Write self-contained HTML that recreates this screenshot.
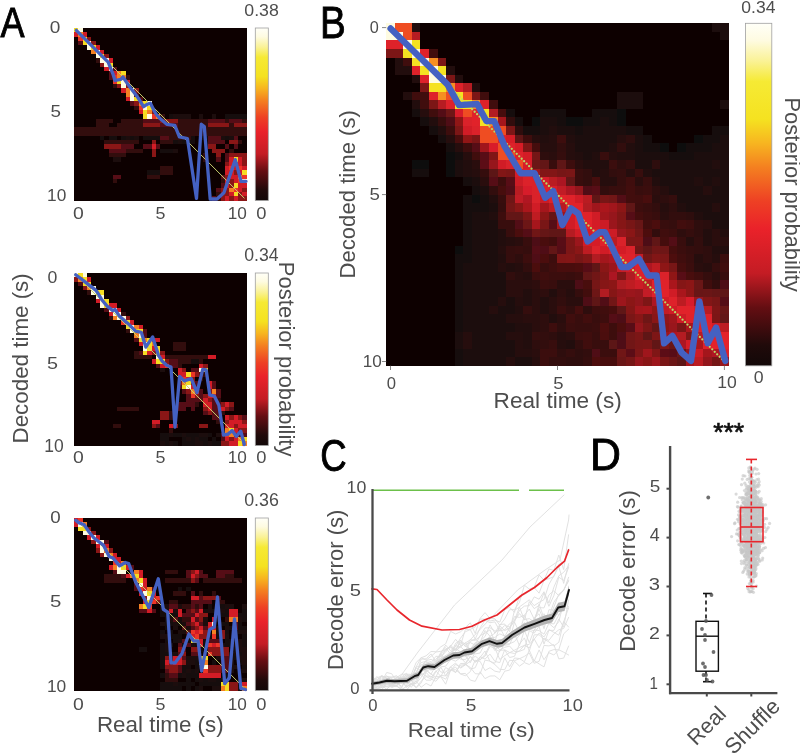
<!DOCTYPE html>
<html><head><meta charset="utf-8"><style>
html,body{margin:0;padding:0;background:#fff;}
body{width:800px;height:754px;overflow:hidden;}
svg text{font-family:"Liberation Sans", sans-serif;}
svg{will-change:transform;}
</style></head><body>
<svg width="800" height="754" viewBox="0 0 800 754" style="display:block">
<defs><filter id="hb" x="-2%" y="-2%" width="104%" height="104%"><feGaussianBlur stdDeviation="0.55"/></filter></defs>
<rect width="800" height="754" fill="#fff"/>
<text transform="translate(0.60,37.25) scale(0.8364,1)" font-size="43.12" fill="#000" stroke="#000" stroke-width="0.9">A</text>
<text transform="translate(319.91,37.50) scale(0.8679,1)" font-size="44.57" fill="#000" stroke="#000" stroke-width="0.9">B</text>
<text transform="translate(320.17,470.56) scale(0.8361,1)" font-size="43.66" fill="#000" stroke="#000" stroke-width="0.9">C</text>
<text transform="translate(590.08,470.00) scale(0.9650,1)" font-size="44.35" fill="#000" stroke="#000" stroke-width="0.9">D</text>
<g filter="url(#hb)"><g transform="translate(74.0,28.0) scale(4.31500,4.31250)" shape-rendering="crispEdges">
<rect x="0" y="0" width="40" height="40" fill="#0d0606"/>
<path fill="#f5dc20" d="M0 0h1v1h-1zM2 2h1v1h-1zM2 3h1v1h-1zM4 4h1v1h-1zM6 6h1v1h-1zM8 8h1v1h-1zM11 10h1v1h-1zM10 12h1v1h-1zM14 16h1v1h-1zM16 17h1v1h-1zM17 18h1v1h-1zM16 19h1v1h-1zM16 20h1v1h-1zM37 30h1v1h-1zM39 33h1v1h-1zM37 36h1v1h-1zM37 38h1v1h-1z"/>
<path fill="#fefbe1" d="M1 0h1v1h-1zM3 3h1v1h-1zM3 4h1v1h-1zM5 5h1v1h-1zM5 6h1v1h-1zM6 7h2v1h-2zM7 8h1v1h-1zM8 9h1v1h-1zM11 12h1v1h-1zM11 13h1v1h-1zM13 14h1v1h-1zM13 15h1v1h-1zM13 16h1v1h-1zM17 17h1v1h-1zM16 18h1v1h-1zM17 20h1v1h-1zM39 35h1v1h-1z"/>
<path fill="#d21e28" d="M0 1h1v1h-1zM2 1h1v1h-1zM5 4h1v1h-1zM6 5h1v1h-1zM8 7h1v1h-1zM7 9h1v1h-1zM9 10h1v1h-1zM12 12h1v1h-1zM11 14h1v1h-1zM12 16h1v1h-1zM15 19h1v1h-1zM18 27h1v1h-1zM36 30h1v1h-1zM38 30h1v1h-1zM36 31h1v1h-1zM38 31h1v1h-1zM35 32h1v1h-1zM37 32h1v1h-1zM39 32h1v1h-1zM35 33h2v1h-2zM38 33h1v1h-1zM36 34h2v1h-2zM35 35h1v1h-1zM37 35h1v1h-1zM35 36h1v1h-1zM38 36h2v1h-2zM38 37h1v1h-1zM36 38h1v1h-1zM39 38h1v1h-1zM35 39h1v1h-1zM37 39h1v1h-1z"/>
<path fill="#f48020" d="M1 1h1v1h-1zM4 5h1v1h-1zM10 10h1v1h-1zM10 11h2v1h-2zM12 14h1v1h-1zM12 15h1v1h-1zM15 17h1v1h-1zM17 19h1v1h-1zM19 20h1v1h-1zM38 34h1v1h-1zM36 37h1v1h-1z"/>
<path fill="#ec3526" d="M1 2h1v1h-1zM9 11h1v1h-1zM9 12h1v1h-1zM15 18h1v1h-1zM18 20h1v1h-1zM37 31h1v1h-1zM36 32h1v1h-1zM38 32h1v1h-1zM39 34h1v1h-1zM38 35h1v1h-1zM37 37h1v1h-1z"/>
<path fill="#8a1418" d="M3 2h1v1h-1zM4 3h1v1h-1zM7 6h1v1h-1zM6 8h1v1h-1zM10 13h1v1h-1zM12 13h1v1h-1zM14 14h1v1h-1zM14 17h1v1h-1zM18 19h1v1h-1zM20 21h4v1h-4zM16 22h4v1h-4zM31 22h5v1h-5zM37 22h3v1h-3zM18 26h1v1h-1zM36 26h2v1h-2zM7 27h4v1h-4zM31 27h2v1h-2zM18 28h1v1h-1zM32 28h3v1h-3zM18 29h1v1h-1zM33 29h1v1h-1zM36 29h4v1h-4zM39 30h1v1h-1zM35 31h1v1h-1zM39 31h1v1h-1zM37 33h1v1h-1zM35 34h1v1h-1zM36 35h1v1h-1zM36 36h1v1h-1zM34 37h2v1h-2zM39 37h1v1h-1zM34 38h2v1h-2zM38 38h1v1h-1zM34 39h1v1h-1zM36 39h1v1h-1zM38 39h2v1h-2z"/>
<path fill="#561112" d="M1 3h1v1h-1zM9 9h1v1h-1zM8 10h1v1h-1zM8 11h1v1h-1zM14 15h1v1h-1zM15 16h1v1h-1zM13 17h1v1h-1zM16 21h4v1h-4zM31 21h4v1h-4zM36 21h3v1h-3zM20 22h4v1h-4zM20 25h2v1h-2zM31 25h3v1h-3zM37 25h1v1h-1zM31 26h4v1h-4zM11 27h3v1h-3zM16 27h2v1h-2zM19 27h1v1h-1zM35 27h1v1h-1zM37 27h1v1h-1zM8 28h4v1h-4zM35 29h1v1h-1zM33 30h1v1h-1zM35 30h1v1h-1zM9 34h2v1h-2zM34 34h1v1h-1zM34 36h1v1h-1zM33 37h1v1h-1zM32 39h1v1h-1z"/>
<path fill="#330e0e" d="M5 7h1v1h-1zM12 11h1v1h-1zM9 13h1v1h-1zM14 18h1v1h-1zM20 20h1v1h-1zM5 21h4v1h-4zM11 21h5v1h-5zM24 21h7v1h-7zM35 21h1v1h-1zM39 21h1v1h-1zM5 22h3v1h-3zM10 22h6v1h-6zM24 22h7v1h-7zM36 22h1v1h-1zM0 23h40v1h-40zM0 24h40v1h-40zM22 25h5v1h-5zM7 26h8v1h-8zM20 26h3v1h-3zM38 26h1v1h-1zM12 28h4v1h-4zM36 28h1v1h-1zM8 29h4v1h-4zM30 29h1v1h-1zM30 30h1v1h-1zM20 32h3v1h-3zM20 33h3v1h-3zM17 34h3v1h-3zM9 35h1v1h-1zM34 35h1v1h-1zM33 38h1v1h-1zM33 39h1v1h-1z"/>
<path fill="#180808" d="M22 20h1v1h-1zM36 20h2v1h-2zM39 20h1v1h-1zM6 25h1v1h-1zM8 25h2v1h-2zM11 25h1v1h-1zM17 25h3v1h-3zM29 25h2v1h-2zM26 26h1v1h-1zM19 33h1v1h-1z"/>
<path fill="#1e0909" d="M23 20h4v1h-4zM29 20h1v1h-1zM32 20h1v1h-1zM12 25h1v1h-1zM14 25h1v1h-1zM34 25h1v1h-1zM36 25h1v1h-1zM24 26h1v1h-1zM23 28h1v1h-1zM9 30h2v1h-2z"/>
<path fill="#120707" d="M35 20h1v1h-1zM38 20h1v1h-1zM13 25h1v1h-1zM16 25h1v1h-1zM27 25h1v1h-1zM35 25h1v1h-1zM23 26h1v1h-1zM25 26h1v1h-1zM27 26h1v1h-1zM20 28h3v1h-3zM17 33h2v1h-2z"/>
</g></g>
<defs><linearGradient id="cbA0" x1="0" y1="0" x2="0" y2="1"><stop offset="0.000" stop-color="#fffff8"/><stop offset="0.050" stop-color="#fefbe1"/><stop offset="0.110" stop-color="#faf296"/><stop offset="0.170" stop-color="#f6ea34"/><stop offset="0.280" stop-color="#f5e220"/><stop offset="0.350" stop-color="#f7b520"/><stop offset="0.420" stop-color="#f48020"/><stop offset="0.520" stop-color="#ee4024"/><stop offset="0.600" stop-color="#ea222a"/><stop offset="0.730" stop-color="#c41c24"/><stop offset="0.830" stop-color="#640e12"/><stop offset="0.940" stop-color="#200a0a"/><stop offset="1.000" stop-color="#120808"/></linearGradient></defs><rect x="255.3" y="28.0" width="13.0" height="172.5" fill="url(#cbA0)" stroke="#a0a0a0" stroke-width="0.8"/>
<g filter="url(#hb)"><g transform="translate(74.0,273.0) scale(4.31500,4.31250)" shape-rendering="crispEdges">
<rect x="0" y="0" width="40" height="40" fill="#0d0606"/>
<path fill="#fefbe1" d="M0 0h1v1h-1zM2 0h1v1h-1zM4 3h1v1h-1zM4 4h1v1h-1zM5 5h2v1h-2zM6 6h1v1h-1zM6 7h1v1h-1zM8 8h2v1h-2zM9 9h2v1h-2zM10 10h2v1h-2zM13 12h1v1h-1zM13 13h1v1h-1zM15 14h1v1h-1zM16 16h1v1h-1zM16 17h1v1h-1zM19 19h1v1h-1zM29 22h1v1h-1zM26 26h1v1h-1z"/>
<path fill="#f5dc20" d="M1 0h1v1h-1zM2 1h1v1h-1zM2 2h2v1h-2zM5 4h2v1h-2zM7 6h1v1h-1zM7 7h1v1h-1zM12 11h1v1h-1zM12 12h1v1h-1zM14 13h2v1h-2zM15 15h1v1h-1zM17 15h1v1h-1zM17 16h1v1h-1zM17 17h1v1h-1zM19 17h1v1h-1zM16 18h1v1h-1zM19 18h1v1h-1zM19 20h2v1h-2zM30 22h1v1h-1zM26 23h1v1h-1zM26 25h1v1h-1zM25 26h1v1h-1zM36 36h1v1h-1zM39 38h1v1h-1zM38 39h1v1h-1z"/>
<path fill="#8a1418" d="M0 1h1v1h-1zM2 3h1v1h-1zM12 10h1v1h-1zM18 18h1v1h-1zM20 18h1v1h-1zM21 20h1v1h-1zM30 21h1v1h-1zM25 22h1v1h-1zM28 23h1v1h-1zM27 24h1v1h-1zM24 25h1v1h-1zM27 25h1v1h-1zM26 27h1v1h-1zM31 27h1v1h-1zM28 28h1v1h-1zM30 28h1v1h-1zM31 29h1v1h-1zM34 30h1v1h-1zM36 30h1v1h-1zM30 31h1v1h-1zM35 31h1v1h-1zM20 32h2v1h-2zM31 32h1v1h-1zM20 33h2v1h-2zM36 33h1v1h-1zM38 33h1v1h-1zM35 34h1v1h-1zM39 34h1v1h-1zM18 35h1v1h-1zM23 35h1v1h-1zM29 35h2v1h-2zM37 35h1v1h-1zM38 36h2v1h-2zM37 37h1v1h-1zM36 38h1v1h-1zM34 39h2v1h-2z"/>
<path fill="#f48020" d="M1 1h1v1h-1zM3 3h1v1h-1zM9 10h1v1h-1zM14 12h1v1h-1zM14 14h1v1h-1zM16 15h1v1h-1zM18 16h1v1h-1zM25 25h1v1h-1zM27 27h1v1h-1zM32 27h1v1h-1zM35 36h1v1h-1zM36 37h1v1h-1zM38 38h1v1h-1zM39 39h1v1h-1z"/>
<path fill="#d21e28" d="M3 1h1v1h-1zM5 6h1v1h-1zM8 7h2v1h-2zM10 8h1v1h-1zM8 9h1v1h-1zM13 11h1v1h-1zM15 12h1v1h-1zM18 15h2v1h-2zM15 16h1v1h-1zM18 17h1v1h-1zM17 18h1v1h-1zM20 19h1v1h-1zM31 19h2v1h-2zM18 20h1v1h-1zM20 21h1v1h-1zM29 21h1v1h-1zM24 22h1v1h-1zM24 23h2v1h-2zM26 24h1v1h-1zM31 25h1v1h-1zM27 26h1v1h-1zM31 26h1v1h-1zM28 27h1v1h-1zM31 28h2v1h-2zM30 29h1v1h-1zM30 30h2v1h-2zM35 30h1v1h-1zM31 31h1v1h-1zM34 31h1v1h-1zM35 33h1v1h-1zM37 33h1v1h-1zM18 34h2v1h-2zM36 34h3v1h-3zM22 35h1v1h-1zM35 35h2v1h-2zM38 35h2v1h-2zM37 36h1v1h-1zM35 38h1v1h-1zM37 38h1v1h-1zM36 39h2v1h-2z"/>
<path fill="#561112" d="M1 2h1v1h-1zM7 8h1v1h-1zM16 13h1v1h-1zM16 14h1v1h-1zM14 15h1v1h-1zM15 18h1v1h-1zM22 20h2v1h-2zM19 21h1v1h-1zM22 21h2v1h-2zM27 22h2v1h-2zM29 23h1v1h-1zM24 24h1v1h-1zM28 25h1v1h-1zM32 25h1v1h-1zM24 26h1v1h-1zM28 26h1v1h-1zM32 26h1v1h-1zM25 27h1v1h-1zM29 27h1v1h-1zM33 27h1v1h-1zM26 28h1v1h-1zM29 28h1v1h-1zM33 28h1v1h-1zM26 29h4v1h-4zM32 29h1v1h-1zM24 30h4v1h-4zM32 30h2v1h-2zM24 31h2v1h-2zM27 31h1v1h-1zM32 31h2v1h-2zM36 31h1v1h-1zM30 32h1v1h-1zM32 32h2v1h-2zM32 33h2v1h-2zM39 33h1v1h-1zM19 35h1v1h-1zM34 37h1v1h-1zM38 37h2v1h-2zM34 38h1v1h-1z"/>
<path fill="#330e0e" d="M3 4h1v1h-1zM11 9h1v1h-1zM8 10h1v1h-1zM12 13h1v1h-1zM23 16h3v1h-3zM23 17h3v1h-3zM14 18h1v1h-1zM14 19h4v1h-4zM21 19h10v1h-10zM24 20h3v1h-3zM29 20h1v1h-1zM24 21h1v1h-1zM30 23h1v1h-1zM29 24h1v1h-1zM33 29h1v1h-1zM28 30h1v1h-1zM10 31h5v1h-5zM22 32h1v1h-1zM34 32h1v1h-1zM22 33h1v1h-1zM33 34h1v1h-1zM9 35h2v1h-2zM22 36h1v1h-1z"/>
<path fill="#ec3526" d="M11 11h1v1h-1zM21 21h1v1h-1zM27 23h1v1h-1zM25 24h1v1h-1zM27 28h1v1h-1zM35 37h1v1h-1z"/>
<path fill="#120707" d="M27 20h1v1h-1zM20 37h2v1h-2zM23 37h2v1h-2zM26 37h1v1h-1zM28 37h1v1h-1zM20 38h2v1h-2zM25 38h1v1h-1zM29 38h2v1h-2zM21 39h1v1h-1zM23 39h1v1h-1zM26 39h2v1h-2zM30 39h1v1h-1zM33 39h1v1h-1z"/>
<path fill="#180808" d="M28 20h1v1h-1zM27 37h1v1h-1zM31 37h1v1h-1zM27 38h1v1h-1zM32 38h1v1h-1zM25 39h1v1h-1zM32 39h1v1h-1z"/>
<path fill="#1e0909" d="M20 22h1v1h-1zM22 37h1v1h-1zM25 37h1v1h-1zM29 37h2v1h-2zM33 37h1v1h-1zM26 38h1v1h-1zM28 38h1v1h-1zM20 39h1v1h-1zM22 39h1v1h-1zM28 39h2v1h-2zM31 39h1v1h-1z"/>
</g></g>
<defs><linearGradient id="cbA1" x1="0" y1="0" x2="0" y2="1"><stop offset="0.000" stop-color="#fffff8"/><stop offset="0.050" stop-color="#fefbe1"/><stop offset="0.110" stop-color="#faf296"/><stop offset="0.170" stop-color="#f6ea34"/><stop offset="0.280" stop-color="#f5e220"/><stop offset="0.350" stop-color="#f7b520"/><stop offset="0.420" stop-color="#f48020"/><stop offset="0.520" stop-color="#ee4024"/><stop offset="0.600" stop-color="#ea222a"/><stop offset="0.730" stop-color="#c41c24"/><stop offset="0.830" stop-color="#640e12"/><stop offset="0.940" stop-color="#200a0a"/><stop offset="1.000" stop-color="#120808"/></linearGradient></defs><rect x="255.3" y="273.0" width="13.0" height="172.5" fill="url(#cbA1)" stroke="#a0a0a0" stroke-width="0.8"/>
<g filter="url(#hb)"><g transform="translate(74.0,518.0) scale(4.31500,4.31250)" shape-rendering="crispEdges">
<rect x="0" y="0" width="40" height="40" fill="#0d0606"/>
<path fill="#d21e28" d="M0 0h1v1h-1zM0 1h1v1h-1zM3 4h1v1h-1zM5 4h1v1h-1zM5 6h1v1h-1zM7 6h1v1h-1zM9 8h1v1h-1zM9 9h2v1h-2zM10 10h1v1h-1zM8 11h1v1h-1zM12 11h1v1h-1zM15 12h1v1h-1zM28 12h1v1h-1zM12 13h1v1h-1zM15 13h1v1h-1zM27 13h1v1h-1zM16 14h1v1h-1zM16 15h1v1h-1zM16 16h1v1h-1zM15 17h1v1h-1zM18 17h1v1h-1zM18 18h1v1h-1zM27 18h2v1h-2zM16 19h1v1h-1zM17 21h1v1h-1zM22 21h1v1h-1zM24 21h1v1h-1zM29 21h1v1h-1zM36 21h2v1h-2zM24 22h1v1h-1zM28 22h1v1h-1zM36 22h2v1h-2zM27 23h1v1h-1zM32 23h1v1h-1zM28 24h1v1h-1zM31 24h1v1h-1zM29 25h1v1h-1zM31 25h2v1h-2zM28 26h1v1h-1zM27 27h1v1h-1zM29 28h1v1h-1zM29 29h1v1h-1zM32 29h1v1h-1zM23 32h2v1h-2zM21 33h1v1h-1zM23 33h2v1h-2zM29 36h5v1h-5zM39 38h1v1h-1z"/>
<path fill="#ec3526" d="M1 0h1v1h-1zM9 10h1v1h-1zM15 16h1v1h-1zM19 18h1v1h-1zM18 19h1v1h-1zM17 20h1v1h-1zM27 26h1v1h-1zM29 26h1v1h-1zM28 27h1v1h-1zM32 27h1v1h-1zM31 29h1v1h-1zM33 29h1v1h-1zM31 31h1v1h-1zM30 35h1v1h-1z"/>
<path fill="#fefbe1" d="M1 1h1v1h-1zM2 3h2v1h-2zM4 4h1v1h-1zM5 5h2v1h-2zM6 6h1v1h-1zM6 7h1v1h-1zM7 8h1v1h-1zM8 9h1v1h-1zM10 11h1v1h-1zM10 12h2v1h-2zM15 15h1v1h-1zM16 17h1v1h-1zM17 18h1v1h-1zM32 24h1v1h-1zM30 34h1v1h-1z"/>
<path fill="#f48020" d="M2 1h1v1h-1zM7 7h1v1h-1zM8 8h1v1h-1zM11 10h1v1h-1zM9 11h1v1h-1zM14 12h1v1h-1zM13 13h1v1h-1zM14 14h1v1h-1zM17 16h1v1h-1zM15 20h1v1h-1zM36 23h2v1h-2zM32 26h1v1h-1zM30 33h1v1h-1zM34 39h1v1h-1zM39 39h1v1h-1z"/>
<path fill="#f5dc20" d="M1 2h2v1h-2zM11 11h1v1h-1zM14 13h1v1h-1zM15 14h1v1h-1zM17 17h1v1h-1zM17 19h1v1h-1zM16 20h1v1h-1zM27 28h2v1h-2zM29 32h2v1h-2zM29 33h1v1h-1zM34 38h2v1h-2zM35 39h1v1h-1z"/>
<path fill="#8a1418" d="M3 2h1v1h-1zM4 3h1v1h-1zM4 5h1v1h-1zM5 7h1v1h-1zM8 7h1v1h-1zM6 8h1v1h-1zM27 12h1v1h-1zM28 13h1v1h-1zM27 14h1v1h-1zM16 18h1v1h-1zM30 18h3v1h-3zM19 19h1v1h-1zM27 21h1v1h-1zM29 22h2v1h-2zM29 23h1v1h-1zM27 24h1v1h-1zM28 25h1v1h-1zM30 26h1v1h-1zM34 26h1v1h-1zM29 27h2v1h-2zM34 27h1v1h-1zM24 30h1v1h-1zM27 30h2v1h-2zM31 30h5v1h-5zM25 31h1v1h-1zM32 31h4v1h-4zM21 32h1v1h-1zM22 33h1v1h-1zM25 33h1v1h-1zM21 34h3v1h-3zM31 34h3v1h-3zM22 35h2v1h-2zM31 35h3v1h-3zM36 38h2v1h-2zM36 39h2v1h-2z"/>
<path fill="#561112" d="M7 5h1v1h-1zM13 11h1v1h-1zM9 12h1v1h-1zM26 12h1v1h-1zM29 12h1v1h-1zM33 12h4v1h-4zM11 13h1v1h-1zM26 13h1v1h-1zM29 13h2v1h-2zM33 13h2v1h-2zM28 14h1v1h-1zM14 15h1v1h-1zM14 16h1v1h-1zM18 16h1v1h-1zM27 17h1v1h-1zM29 18h1v1h-1zM33 18h1v1h-1zM27 19h5v1h-5zM22 20h2v1h-2zM27 20h1v1h-1zM29 20h1v1h-1zM15 21h2v1h-2zM18 21h1v1h-1zM26 21h1v1h-1zM28 21h1v1h-1zM25 22h3v1h-3zM23 23h1v1h-1zM28 23h1v1h-1zM26 24h1v1h-1zM29 24h1v1h-1zM37 24h1v1h-1zM25 25h1v1h-1zM27 25h1v1h-1zM30 25h1v1h-1zM37 25h1v1h-1zM26 26h1v1h-1zM25 28h1v1h-1zM31 28h3v1h-3zM24 29h1v1h-1zM26 29h1v1h-1zM25 30h1v1h-1zM24 31h1v1h-1zM27 31h2v1h-2zM22 32h1v1h-1zM25 32h1v1h-1zM34 32h2v1h-2zM34 33h2v1h-2zM24 34h1v1h-1zM34 34h2v1h-2zM21 35h1v1h-1zM24 35h1v1h-1zM34 35h2v1h-2zM22 36h2v1h-2z"/>
<path fill="#330e0e" d="M21 12h3v1h-3zM7 13h4v1h-4zM35 13h2v1h-2zM7 14h5v1h-5zM21 14h6v1h-6zM30 14h9v1h-9zM23 17h3v1h-3zM29 17h1v1h-1zM32 17h1v1h-1zM22 19h2v1h-2zM33 19h2v1h-2zM25 20h2v1h-2zM28 20h1v1h-1zM25 23h2v1h-2zM35 23h1v1h-1zM26 27h1v1h-1zM21 36h1v1h-1zM21 37h3v1h-3z"/>
<path fill="#180808" d="M24 16h1v1h-1zM20 20h1v1h-1zM33 20h2v1h-2zM21 21h1v1h-1zM39 21h1v1h-1zM21 22h1v1h-1zM23 22h1v1h-1zM39 22h1v1h-1zM21 23h1v1h-1zM33 23h1v1h-1zM39 23h1v1h-1zM21 24h2v1h-2zM34 24h1v1h-1zM38 25h1v1h-1zM22 27h1v1h-1zM24 27h1v1h-1zM31 27h1v1h-1zM37 27h1v1h-1zM23 28h1v1h-1zM26 28h1v1h-1zM35 28h1v1h-1zM22 29h1v1h-1zM28 29h1v1h-1zM35 29h2v1h-2zM15 30h2v1h-2zM20 30h1v1h-1zM37 30h1v1h-1zM21 31h1v1h-1zM30 31h1v1h-1zM36 31h1v1h-1zM32 33h1v1h-1zM38 33h1v1h-1zM25 34h2v1h-2zM28 34h2v1h-2zM39 34h1v1h-1zM25 35h1v1h-1zM27 35h1v1h-1zM20 36h1v1h-1zM24 36h1v1h-1zM26 36h2v1h-2zM26 37h1v1h-1zM33 37h1v1h-1zM24 38h1v1h-1zM27 38h1v1h-1zM29 38h3v1h-3zM33 38h1v1h-1zM20 39h2v1h-2zM24 39h1v1h-1z"/>
<path fill="#120707" d="M26 16h1v1h-1zM20 21h1v1h-1zM30 21h1v1h-1zM32 21h1v1h-1zM35 21h1v1h-1zM20 22h1v1h-1zM22 22h1v1h-1zM34 22h2v1h-2zM38 22h1v1h-1zM24 23h1v1h-1zM24 24h1v1h-1zM35 24h1v1h-1zM38 24h1v1h-1zM21 25h1v1h-1zM36 25h1v1h-1zM39 25h1v1h-1zM20 26h1v1h-1zM22 26h1v1h-1zM33 26h1v1h-1zM35 26h1v1h-1zM37 26h1v1h-1zM23 27h1v1h-1zM33 27h1v1h-1zM39 27h1v1h-1zM21 28h1v1h-1zM30 28h1v1h-1zM36 28h2v1h-2zM39 28h1v1h-1zM20 29h1v1h-1zM25 29h1v1h-1zM30 29h1v1h-1zM39 29h1v1h-1zM29 30h1v1h-1zM20 31h1v1h-1zM22 31h1v1h-1zM38 31h1v1h-1zM20 32h1v1h-1zM36 32h2v1h-2zM20 33h1v1h-1zM28 33h1v1h-1zM20 34h1v1h-1zM38 35h1v1h-1zM28 36h1v1h-1zM35 36h1v1h-1zM38 36h1v1h-1zM28 37h1v1h-1zM30 37h1v1h-1zM35 37h1v1h-1zM38 37h1v1h-1zM20 38h3v1h-3zM25 38h2v1h-2zM32 38h1v1h-1zM22 39h2v1h-2zM26 39h1v1h-1zM28 39h1v1h-1z"/>
<path fill="#1e0909" d="M21 20h1v1h-1zM24 20h1v1h-1zM31 20h1v1h-1zM35 20h2v1h-2zM39 20h1v1h-1zM23 21h1v1h-1zM31 21h1v1h-1zM33 21h2v1h-2zM33 22h1v1h-1zM22 23h1v1h-1zM30 23h1v1h-1zM38 23h1v1h-1zM20 24h1v1h-1zM23 24h1v1h-1zM25 24h1v1h-1zM30 24h1v1h-1zM23 25h1v1h-1zM26 25h1v1h-1zM33 25h1v1h-1zM35 25h1v1h-1zM24 26h2v1h-2zM38 26h2v1h-2zM20 27h2v1h-2zM35 27h1v1h-1zM24 28h1v1h-1zM38 28h1v1h-1zM21 29h1v1h-1zM27 29h1v1h-1zM34 29h1v1h-1zM37 29h2v1h-2zM21 30h1v1h-1zM38 30h2v1h-2zM23 31h1v1h-1zM37 31h1v1h-1zM39 31h1v1h-1zM26 32h3v1h-3zM33 32h1v1h-1zM38 32h2v1h-2zM26 33h2v1h-2zM36 33h1v1h-1zM39 33h1v1h-1zM36 34h2v1h-2zM26 35h1v1h-1zM28 35h1v1h-1zM36 35h1v1h-1zM39 35h1v1h-1zM25 36h1v1h-1zM29 37h1v1h-1zM31 37h2v1h-2zM34 37h1v1h-1zM39 37h1v1h-1zM23 38h1v1h-1zM29 39h1v1h-1zM32 39h2v1h-2zM38 39h1v1h-1z"/>
</g></g>
<defs><linearGradient id="cbA2" x1="0" y1="0" x2="0" y2="1"><stop offset="0.000" stop-color="#fffff8"/><stop offset="0.050" stop-color="#fefbe1"/><stop offset="0.110" stop-color="#faf296"/><stop offset="0.170" stop-color="#f6ea34"/><stop offset="0.280" stop-color="#f5e220"/><stop offset="0.350" stop-color="#f7b520"/><stop offset="0.420" stop-color="#f48020"/><stop offset="0.520" stop-color="#ee4024"/><stop offset="0.600" stop-color="#ea222a"/><stop offset="0.730" stop-color="#c41c24"/><stop offset="0.830" stop-color="#640e12"/><stop offset="0.940" stop-color="#200a0a"/><stop offset="1.000" stop-color="#120808"/></linearGradient></defs><rect x="255.3" y="518.0" width="13.0" height="172.5" fill="url(#cbA2)" stroke="#a0a0a0" stroke-width="0.8"/>
<line x1="76.2" y1="30.2" x2="244.4" y2="198.3" stroke="#c8d070" stroke-width="1"/>
<line x1="76.2" y1="275.2" x2="244.4" y2="443.3" stroke="#c8d070" stroke-width="1"/>
<line x1="76.2" y1="520.2" x2="244.4" y2="688.3" stroke="#c8d070" stroke-width="1"/>
<polyline points="76.3,30.3 91.1,45.1 104.8,58.8 108.2,62.2 112.8,73.6 115.0,80.5 120.8,79.3 123.0,77.0 127.6,83.9 137.9,97.6 143.6,106.7 147.0,104.4 150.4,103.3 153.8,110.1 156.1,114.0 160.0,118.6 166.8,124.3 174.8,125.4 179.4,136.8 187.4,138.5 196.5,198.4 201.3,124.2 204.3,126.5 210.2,199.0 217.0,199.0 223.9,192.7 235.3,159.6 241.0,181.3 246.0,181.3" fill="none" stroke="#4461c2" stroke-width="3.3" stroke-linejoin="round" stroke-linecap="round" />
<polyline points="75.7,274.7 85.4,282.1 95.7,290.1 97.4,292.4 101.4,299.2 107.1,306.1 112.8,310.6 115.0,309.5 119.6,316.3 127.6,323.2 135.6,331.2 141.3,332.3 145.8,347.1 152.7,336.9 158.4,355.1 162.3,361.3 166.9,365.4 171.0,367.1 175.0,427.1 179.6,376.3 184.2,380.9 191.2,378.6 197.0,392.5 202.7,369.4 206.2,370.0 209.7,394.8 214.3,396.0 218.9,405.2 223.5,435.2 228.1,434.1 232.2,430.6 236.2,436.4 240.8,431.2 244.3,444.5" fill="none" stroke="#4461c2" stroke-width="3.3" stroke-linejoin="round" stroke-linecap="round" />
<polyline points="75.7,520.3 78.6,522.6 84.3,524.8 88.8,531.7 94.0,538.0 103.6,545.4 109.3,556.8 112.8,557.9 119.6,565.9 125.3,562.5 128.7,563.6 135.6,581.9 148.8,607.5 158.3,578.8 163.3,609.3 167.7,612.2 171.0,662.9 175.0,662.9 181.9,653.7 188.9,634.0 193.5,641.0 198.1,641.0 201.6,671.0 209.7,629.4 214.3,627.1 217.5,597.0 224.7,683.7 229.3,677.9 234.5,619.0 240.8,688.3 245.5,689.5" fill="none" stroke="#4461c2" stroke-width="3.3" stroke-linejoin="round" stroke-linecap="round" />
<text transform="translate(49.84,32.93) scale(1.1185,1)" font-size="17.04" fill="#4d4d4d" >0</text>
<text transform="translate(50.50,117.13) scale(1.0984,1)" font-size="17.14" fill="#4d4d4d" >5</text>
<text transform="translate(47.12,201.33) scale(1.0135,1)" font-size="17.04" fill="#4d4d4d" >10</text>
<text transform="translate(73.12,218.63) scale(1.1658,1)" font-size="16.62" fill="#4d4d4d" >0</text>
<text transform="translate(155.39,218.63) scale(1.0602,1)" font-size="16.86" fill="#4d4d4d" >5</text>
<text transform="translate(227.63,218.63) scale(1.0332,1)" font-size="16.62" fill="#4d4d4d" >10</text>
<text transform="translate(256.27,218.63) scale(1.1031,1)" font-size="16.62" fill="#4d4d4d" >0</text>
<text transform="translate(244.29,16.03) scale(1.0675,1)" font-size="16.62" fill="#4d4d4d" >0.38</text>
<text transform="translate(47.54,283.23) scale(1.0306,1)" font-size="17.18" fill="#4d4d4d" >0</text>
<text transform="translate(46.91,368.63) scale(1.1543,1)" font-size="17.14" fill="#4d4d4d" >5</text>
<text transform="translate(44.20,452.33) scale(1.0006,1)" font-size="17.46" fill="#4d4d4d" >10</text>
<text transform="translate(73.12,463.13) scale(1.1658,1)" font-size="16.62" fill="#4d4d4d" >0</text>
<text transform="translate(155.39,463.13) scale(1.0602,1)" font-size="16.86" fill="#4d4d4d" >5</text>
<text transform="translate(227.63,463.13) scale(1.0332,1)" font-size="16.62" fill="#4d4d4d" >10</text>
<text transform="translate(256.27,463.13) scale(1.1031,1)" font-size="16.62" fill="#4d4d4d" >0</text>
<text transform="translate(244.19,260.82) scale(1.0031,1)" font-size="17.61" fill="#4d4d4d" >0.34</text>
<text transform="translate(50.35,522.63) scale(1.0912,1)" font-size="17.18" fill="#4d4d4d" >0</text>
<text transform="translate(49.98,607.33) scale(1.2015,1)" font-size="17.00" fill="#4d4d4d" >5</text>
<text transform="translate(46.91,691.73) scale(1.0366,1)" font-size="16.76" fill="#4d4d4d" >10</text>
<text transform="translate(73.12,709.83) scale(1.1658,1)" font-size="16.62" fill="#4d4d4d" >0</text>
<text transform="translate(155.39,709.83) scale(1.0602,1)" font-size="16.86" fill="#4d4d4d" >5</text>
<text transform="translate(227.63,709.83) scale(1.0332,1)" font-size="16.62" fill="#4d4d4d" >10</text>
<text transform="translate(256.27,709.83) scale(1.1031,1)" font-size="16.62" fill="#4d4d4d" >0</text>
<text transform="translate(244.19,505.82) scale(1.0138,1)" font-size="17.61" fill="#4d4d4d" >0.36</text>
<text transform="translate(27.80,443.49) rotate(-90)" font-size="22.37" fill="#4d4d4d">Decoded time (s)</text>
<text transform="translate(279.00,261.84) rotate(90)" font-size="22.03" fill="#4d4d4d">Posterior probability</text>
<text transform="translate(96.96,731.51) scale(1.0017,1)" font-size="22.34" fill="#4d4d4d" >Real time (s)</text>
<g filter="url(#hb)"><g transform="translate(386.2,23.3) scale(8.56250,8.56250)" shape-rendering="crispEdges">
<rect x="0" y="0" width="40" height="40" fill="#0d0606"/>
<path fill="#fefbe1" d="M0 0h1v1h-1zM0 1h2v1h-2zM2 2h1v1h-1zM3 3h1v1h-1zM4 4h1v1h-1zM5 5h1v1h-1zM5 6h2v1h-2z"/>
<path fill="#ef4d23" d="M1 0h2v1h-2zM2 1h1v1h-1zM7 8h1v1h-1zM9 8h1v1h-1zM9 10h1v1h-1zM11 12h3v1h-3zM11 13h2v1h-2zM13 14h1v1h-1zM13 15h2v1h-2zM15 16h1v1h-1z"/>
<path fill="#220a0a" d="M3 0h1v1h-1zM1 4h1v1h-1zM1 5h2v1h-2zM7 5h1v1h-1zM3 6h1v1h-1zM8 6h1v1h-1zM10 7h1v1h-1zM2 8h1v1h-1zM3 9h1v1h-1zM21 13h1v1h-1zM23 16h1v1h-1zM12 20h1v1h-1zM36 22h1v1h-1zM14 28h1v1h-1zM16 31h1v1h-1zM16 32h1v1h-1zM16 35h1v1h-1z"/>
<path fill="#1a0808" d="M38 0h2v1h-2zM39 1h1v1h-1zM27 8h3v1h-3zM27 9h3v1h-3zM39 9h1v1h-1zM25 11h1v1h-1zM23 12h1v1h-1zM25 12h1v1h-1zM29 13h1v1h-1zM39 13h1v1h-1zM38 14h2v1h-2zM36 15h1v1h-1zM33 16h4v1h-4zM33 17h2v1h-2zM34 18h1v1h-1z"/>
<path fill="#b61a22" d="M3 1h1v1h-1zM9 7h1v1h-1zM6 9h1v1h-1z"/>
<path fill="#de2029" d="M0 2h2v1h-2zM4 3h1v1h-1zM3 5h1v1h-1zM4 6h1v1h-1zM8 7h1v1h-1zM5 8h1v1h-1zM7 9h1v1h-1zM11 9h1v1h-1zM13 13h1v1h-1zM19 20h1v1h-1zM26 26h1v1h-1zM30 29h1v1h-1zM33 32h1v1h-1zM37 34h1v1h-1z"/>
<path fill="#f5e220" d="M3 2h1v1h-1zM2 3h1v1h-1zM3 4h1v1h-1zM4 5h1v1h-1zM6 5h1v1h-1zM5 7h2v1h-2zM8 8h1v1h-1zM8 9h2v1h-2zM11 10h1v1h-1zM11 11h1v1h-1z"/>
<path fill="#7b1316" d="M0 3h2v1h-2zM6 4h1v1h-1zM7 6h1v1h-1zM4 7h1v1h-1zM10 8h1v1h-1zM5 9h1v1h-1zM8 12h1v1h-1zM28 25h2v1h-2zM21 26h1v1h-1z"/>
<path fill="#401010" d="M5 3h1v1h-1zM2 4h1v1h-1zM3 8h2v1h-2zM11 8h1v1h-1zM4 9h1v1h-1zM12 9h1v1h-1zM19 28h1v1h-1zM39 28h1v1h-1zM18 29h1v1h-1zM25 33h1v1h-1z"/>
<path fill="#f58f20" d="M5 4h1v1h-1zM7 7h1v1h-1zM6 8h1v1h-1zM10 9h1v1h-1zM12 11h1v1h-1z"/>
<path fill="#0e0606" d="M2 10h1v1h-1zM15 10h1v1h-1zM21 10h2v1h-2zM30 10h1v1h-1zM38 10h2v1h-2zM3 11h1v1h-1zM16 11h1v1h-1zM28 11h1v1h-1zM37 11h1v1h-1zM4 12h1v1h-1zM31 12h1v1h-1zM36 12h1v1h-1zM5 13h1v1h-1zM32 13h1v1h-1zM34 13h1v1h-1zM6 14h1v1h-1zM2 16h1v1h-1zM5 16h1v1h-1zM2 17h1v1h-1zM5 17h1v1h-1zM2 18h4v1h-4zM7 18h1v1h-1zM8 19h1v1h-1zM7 26h1v1h-1z"/>
<path fill="#130707" d="M3 10h1v1h-1zM4 11h1v1h-1zM20 11h1v1h-1zM5 12h1v1h-1zM22 12h1v1h-1zM6 13h1v1h-1zM7 14h1v1h-1zM11 20h1v1h-1z"/>
<path fill="#260b0b" d="M4 10h1v1h-1zM7 13h1v1h-1zM17 13h1v1h-1zM9 15h1v1h-1zM25 17h1v1h-1zM14 25h1v1h-1zM16 29h1v1h-1zM21 31h1v1h-1zM13 32h1v1h-1zM14 36h2v1h-2zM20 36h1v1h-1zM14 39h1v1h-1z"/>
<path fill="#3f1010" d="M5 10h1v1h-1zM28 18h1v1h-1zM29 20h1v1h-1zM32 24h1v1h-1zM34 27h1v1h-1zM36 29h1v1h-1zM37 30h1v1h-1zM21 34h1v1h-1zM23 36h1v1h-1zM23 37h1v1h-1z"/>
<path fill="#521112" d="M6 10h1v1h-1zM27 20h1v1h-1zM33 25h1v1h-1z"/>
<path fill="#6d1215" d="M7 10h1v1h-1zM24 31h1v1h-1z"/>
<path fill="#d71f29" d="M8 10h1v1h-1zM16 16h1v1h-1zM16 19h1v1h-1z"/>
<path fill="#e12129" d="M10 10h1v1h-1zM10 11h1v1h-1zM21 21h1v1h-1zM23 22h1v1h-1zM22 23h1v1h-1zM32 31h1v1h-1zM34 33h2v1h-2zM37 35h1v1h-1z"/>
<path fill="#b11a21" d="M12 10h1v1h-1zM24 27h1v1h-1zM28 29h1v1h-1zM27 30h1v1h-1z"/>
<path fill="#471011" d="M13 10h1v1h-1zM13 19h1v1h-1z"/>
<path fill="#180808" d="M14 10h1v1h-1zM26 11h1v1h-1zM36 14h1v1h-1zM34 15h1v1h-1zM10 21h2v1h-2zM9 22h1v1h-1zM9 23h1v1h-1zM9 24h1v1h-1zM9 25h1v1h-1zM9 26h1v1h-1zM8 28h1v1h-1zM8 29h1v1h-1zM8 30h1v1h-1zM8 31h1v1h-1zM8 32h1v1h-1zM8 33h1v1h-1zM8 34h1v1h-1zM8 39h1v1h-1z"/>
<path fill="#0f0606" d="M17 10h1v1h-1zM23 10h1v1h-1zM28 10h2v1h-2zM38 11h2v1h-2zM30 12h1v1h-1zM37 12h1v1h-1zM31 13h1v1h-1zM35 13h1v1h-1zM33 14h1v1h-1zM8 18h1v1h-1zM9 19h1v1h-1zM8 20h1v1h-1zM8 21h1v1h-1zM8 22h1v1h-1zM8 23h1v1h-1zM8 24h1v1h-1zM8 25h1v1h-1zM7 27h1v1h-1zM7 28h1v1h-1zM7 29h1v1h-1zM7 30h1v1h-1zM7 31h1v1h-1zM7 32h1v1h-1zM7 33h1v1h-1zM7 34h1v1h-1zM7 35h1v1h-1zM7 36h1v1h-1zM7 37h1v1h-1zM7 38h1v1h-1zM7 39h1v1h-1z"/>
<path fill="#190808" d="M18 10h2v1h-2zM24 11h1v1h-1zM38 13h1v1h-1zM30 14h1v1h-1zM37 14h1v1h-1zM35 15h1v1h-1zM3 17h2v1h-2zM9 27h1v1h-1zM8 35h1v1h-1zM8 38h1v1h-1z"/>
<path fill="#170808" d="M20 10h1v1h-1zM24 10h3v1h-3zM23 11h1v1h-1zM38 12h2v1h-2zM30 13h1v1h-1zM37 13h1v1h-1zM31 14h1v1h-1zM35 14h1v1h-1zM33 15h1v1h-1zM9 21h1v1h-1zM8 27h1v1h-1z"/>
<path fill="#100707" d="M27 10h1v1h-1zM17 11h1v1h-1zM21 11h2v1h-2zM27 11h1v1h-1zM36 13h1v1h-1zM32 14h1v1h-1zM34 14h1v1h-1zM7 15h1v1h-1zM3 16h2v1h-2zM7 16h1v1h-1zM7 17h1v1h-1zM8 26h1v1h-1z"/>
<path fill="#240a0a" d="M5 11h1v1h-1zM6 12h1v1h-1zM24 17h1v1h-1z"/>
<path fill="#390f0f" d="M6 11h1v1h-1zM22 17h1v1h-1zM22 18h1v1h-1zM27 19h1v1h-1zM30 21h1v1h-1zM14 23h1v1h-1zM16 25h1v1h-1zM15 26h1v1h-1zM21 29h1v1h-1zM19 30h1v1h-1zM25 37h1v1h-1z"/>
<path fill="#4f1112" d="M7 11h1v1h-1zM39 30h1v1h-1zM24 38h1v1h-1z"/>
<path fill="#901519" d="M8 11h1v1h-1zM9 13h1v1h-1zM31 33h1v1h-1z"/>
<path fill="#da2029" d="M9 11h1v1h-1zM14 16h1v1h-1zM17 18h1v1h-1zM17 19h1v1h-1zM17 20h1v1h-1zM27 25h1v1h-1zM32 29h1v1h-1z"/>
<path fill="#a5181e" d="M13 11h1v1h-1zM18 21h1v1h-1z"/>
<path fill="#330d0d" d="M14 11h1v1h-1zM31 24h1v1h-1zM14 29h1v1h-1zM38 30h1v1h-1zM21 33h1v1h-1z"/>
<path fill="#140707" d="M15 11h1v1h-1zM28 12h1v1h-1z"/>
<path fill="#1c0909" d="M18 11h1v1h-1zM21 12h1v1h-1zM22 13h1v1h-1zM29 14h1v1h-1zM29 15h2v1h-2zM32 16h1v1h-1zM32 17h1v1h-1zM38 17h1v1h-1zM32 18h1v1h-1zM34 19h1v1h-1zM36 19h1v1h-1zM38 19h1v1h-1zM12 24h1v1h-1zM12 27h1v1h-1zM12 32h1v1h-1zM13 34h1v1h-1zM13 35h1v1h-1zM10 36h1v1h-1zM10 37h1v1h-1zM13 39h1v1h-1z"/>
<path fill="#1d0909" d="M19 11h1v1h-1zM18 12h1v1h-1zM26 13h1v1h-1zM23 14h1v1h-1zM8 16h1v1h-1zM8 17h1v1h-1zM37 17h1v1h-1zM39 17h1v1h-1zM37 18h1v1h-1zM36 20h1v1h-1zM39 20h1v1h-1zM36 21h2v1h-2zM39 21h1v1h-1zM39 22h1v1h-1zM39 23h1v1h-1zM13 31h1v1h-1zM13 33h1v1h-1zM14 38h1v1h-1z"/>
<path fill="#3d0f0f" d="M7 12h1v1h-1zM9 14h1v1h-1zM13 18h1v1h-1zM35 23h1v1h-1zM19 35h1v1h-1zM26 35h1v1h-1zM26 36h1v1h-1z"/>
<path fill="#d11e28" d="M9 12h1v1h-1zM13 16h1v1h-1zM22 20h1v1h-1zM22 24h1v1h-1zM25 24h1v1h-1zM23 25h1v1h-1z"/>
<path fill="#db2029" d="M10 12h1v1h-1zM18 19h1v1h-1zM28 26h1v1h-1zM39 38h1v1h-1z"/>
<path fill="#7c1316" d="M14 12h1v1h-1zM14 17h1v1h-1zM32 27h1v1h-1zM38 34h1v1h-1z"/>
<path fill="#2e0c0c" d="M15 12h1v1h-1zM18 15h1v1h-1zM27 16h1v1h-1zM31 19h1v1h-1zM33 21h1v1h-1zM17 30h1v1h-1zM20 35h1v1h-1zM19 36h1v1h-1zM20 38h1v1h-1zM22 38h1v1h-1z"/>
<path fill="#150808" d="M16 12h1v1h-1zM8 15h1v1h-1zM9 20h1v1h-1z"/>
<path fill="#150707" d="M17 12h1v1h-1z"/>
<path fill="#210a0a" d="M19 12h1v1h-1zM18 13h1v1h-1zM26 14h1v1h-1zM9 17h1v1h-1zM30 17h1v1h-1zM31 18h1v1h-1zM39 24h1v1h-1zM13 27h1v1h-1zM18 32h1v1h-1zM15 33h1v1h-1zM18 33h1v1h-1zM16 36h1v1h-1z"/>
<path fill="#1f0a0a" d="M20 12h1v1h-1zM24 14h1v1h-1zM34 20h1v1h-1zM12 21h1v1h-1zM37 22h1v1h-1zM12 23h1v1h-1zM15 39h2v1h-2z"/>
<path fill="#1b0909" d="M24 12h1v1h-1zM27 12h1v1h-1zM23 13h3v1h-3zM31 15h2v1h-2zM37 15h3v1h-3zM37 16h1v1h-1zM39 16h1v1h-1zM35 17h2v1h-2zM33 18h1v1h-1zM35 18h1v1h-1zM39 18h1v1h-1zM35 19h1v1h-1zM39 19h1v1h-1zM35 20h1v1h-1zM12 25h1v1h-1zM12 26h1v1h-1zM12 28h1v1h-1zM12 29h1v1h-1zM12 31h1v1h-1zM11 32h1v1h-1zM11 33h1v1h-1zM11 34h2v1h-2zM9 35h2v1h-2zM13 36h1v1h-1zM13 37h1v1h-1zM9 38h2v1h-2zM13 38h1v1h-1z"/>
<path fill="#1a0909" d="M26 12h1v1h-1zM10 18h1v1h-1zM10 22h2v1h-2zM10 23h2v1h-2zM10 24h2v1h-2zM10 25h2v1h-2zM10 26h2v1h-2zM10 27h2v1h-2zM9 28h3v1h-3zM9 29h3v1h-3zM9 30h4v1h-4zM9 31h3v1h-3zM9 32h2v1h-2zM9 33h2v1h-2zM9 34h2v1h-2zM11 35h2v1h-2zM8 36h1v1h-1zM11 36h2v1h-2zM8 37h1v1h-1zM11 37h2v1h-2zM11 38h2v1h-2zM9 39h4v1h-4z"/>
<path fill="#120707" d="M29 12h1v1h-1zM10 19h1v1h-1z"/>
<path fill="#491111" d="M8 13h1v1h-1zM35 29h1v1h-1z"/>
<path fill="#7d1317" d="M10 13h1v1h-1zM16 22h1v1h-1zM21 25h1v1h-1zM27 29h1v1h-1zM30 35h1v1h-1zM31 36h1v1h-1zM32 37h1v1h-1z"/>
<path fill="#d51f28" d="M14 13h1v1h-1zM24 25h1v1h-1zM35 37h1v1h-1z"/>
<path fill="#5f1213" d="M15 13h1v1h-1zM27 33h1v1h-1zM30 36h1v1h-1z"/>
<path fill="#3e1010" d="M16 13h1v1h-1zM21 16h1v1h-1zM29 21h1v1h-1zM30 22h1v1h-1zM16 27h1v1h-1zM22 29h1v1h-1z"/>
<path fill="#250b0b" d="M19 13h1v1h-1zM21 14h1v1h-1zM26 15h1v1h-1zM26 18h1v1h-1zM37 19h1v1h-1zM38 21h1v1h-1zM15 28h1v1h-1zM37 28h1v1h-1zM12 33h1v1h-1zM14 34h1v1h-1zM9 36h1v1h-1zM9 37h1v1h-1zM20 37h1v1h-1zM17 39h1v1h-1z"/>
<path fill="#3c0f0f" d="M20 13h1v1h-1zM13 22h1v1h-1zM19 27h1v1h-1zM24 33h1v1h-1zM25 34h1v1h-1zM22 36h1v1h-1z"/>
<path fill="#270b0b" d="M27 13h1v1h-1zM18 14h2v1h-2zM28 17h1v1h-1zM32 19h1v1h-1zM32 21h1v1h-1zM38 27h1v1h-1zM15 38h1v1h-1z"/>
<path fill="#2f0d0d" d="M28 13h1v1h-1zM32 20h1v1h-1zM36 24h1v1h-1zM15 27h1v1h-1zM37 27h1v1h-1zM20 31h1v1h-1zM23 33h1v1h-1zM18 35h1v1h-1z"/>
<path fill="#280b0b" d="M8 14h1v1h-1zM21 15h1v1h-1zM10 17h1v1h-1zM25 18h1v1h-1zM35 25h1v1h-1zM13 26h1v1h-1zM36 27h1v1h-1zM13 28h1v1h-1zM15 32h1v1h-1zM15 34h1v1h-1zM15 37h1v1h-1zM16 38h1v1h-1z"/>
<path fill="#571112" d="M10 14h1v1h-1z"/>
<path fill="#a0171d" d="M11 14h1v1h-1zM32 36h1v1h-1z"/>
<path fill="#d81f29" d="M12 14h1v1h-1zM15 17h1v1h-1zM19 19h1v1h-1z"/>
<path fill="#dd2029" d="M14 14h1v1h-1zM15 15h1v1h-1zM29 28h1v1h-1zM31 31h1v1h-1zM37 37h1v1h-1z"/>
<path fill="#d61f28" d="M15 14h1v1h-1zM36 33h1v1h-1z"/>
<path fill="#7f1317" d="M16 14h1v1h-1zM38 33h1v1h-1z"/>
<path fill="#451011" d="M17 14h1v1h-1zM24 18h1v1h-1zM29 22h1v1h-1zM32 25h1v1h-1zM33 26h1v1h-1z"/>
<path fill="#320d0d" d="M20 14h1v1h-1zM23 17h1v1h-1zM23 18h1v1h-1zM34 22h1v1h-1zM36 26h1v1h-1zM16 28h1v1h-1zM18 37h1v1h-1zM23 38h1v1h-1zM19 39h1v1h-1z"/>
<path fill="#1e0909" d="M22 14h1v1h-1zM25 14h1v1h-1zM23 15h1v1h-1zM29 16h2v1h-2zM31 17h1v1h-1zM11 19h1v1h-1zM33 19h1v1h-1zM37 20h2v1h-2zM35 21h1v1h-1zM38 22h1v1h-1zM38 23h1v1h-1z"/>
<path fill="#310d0d" d="M27 14h1v1h-1zM25 19h1v1h-1zM33 22h1v1h-1zM18 36h1v1h-1z"/>
<path fill="#200a0a" d="M28 14h1v1h-1zM22 15h1v1h-1zM24 15h1v1h-1zM28 15h1v1h-1zM12 22h1v1h-1zM13 24h1v1h-1zM13 25h1v1h-1zM15 35h1v1h-1z"/>
<path fill="#411010" d="M10 15h1v1h-1z"/>
<path fill="#591113" d="M11 15h1v1h-1zM24 19h1v1h-1zM20 25h1v1h-1zM34 29h1v1h-1zM28 35h1v1h-1zM33 38h1v1h-1z"/>
<path fill="#801317" d="M12 15h1v1h-1zM31 38h1v1h-1z"/>
<path fill="#d31f28" d="M16 15h1v1h-1zM27 26h1v1h-1zM38 35h1v1h-1z"/>
<path fill="#751316" d="M17 15h1v1h-1zM14 21h1v1h-1zM38 39h1v1h-1z"/>
<path fill="#2c0c0c" d="M19 15h1v1h-1zM11 18h1v1h-1zM38 29h1v1h-1zM21 36h1v1h-1zM17 38h1v1h-1z"/>
<path fill="#350e0e" d="M20 15h1v1h-1zM11 17h1v1h-1zM33 20h1v1h-1zM33 23h1v1h-1zM14 26h1v1h-1zM35 26h1v1h-1zM38 28h1v1h-1zM22 31h1v1h-1zM16 33h1v1h-1zM21 38h1v1h-1z"/>
<path fill="#370e0e" d="M25 15h1v1h-1zM29 17h1v1h-1zM30 18h1v1h-1zM26 19h1v1h-1zM31 22h1v1h-1zM32 23h1v1h-1zM34 25h1v1h-1zM35 27h1v1h-1zM39 29h1v1h-1zM22 34h1v1h-1zM22 35h2v1h-2zM19 37h1v1h-1zM24 37h1v1h-1z"/>
<path fill="#230a0a" d="M27 15h1v1h-1zM9 16h1v1h-1zM24 16h1v1h-1zM38 16h1v1h-1zM34 21h1v1h-1zM37 24h1v1h-1zM39 26h1v1h-1zM19 31h1v1h-1zM16 37h1v1h-1zM21 37h1v1h-1z"/>
<path fill="#2a0c0c" d="M10 16h1v1h-1zM22 16h1v1h-1zM29 18h1v1h-1zM31 20h1v1h-1zM32 22h1v1h-1zM39 25h1v1h-1zM36 28h1v1h-1zM15 29h1v1h-1zM14 30h1v1h-1zM21 30h1v1h-1zM17 31h1v1h-1zM19 32h1v1h-1zM17 33h1v1h-1zM16 34h1v1h-1zM20 34h1v1h-1z"/>
<path fill="#5c1113" d="M11 16h1v1h-1z"/>
<path fill="#96161b" d="M12 16h1v1h-1zM26 22h1v1h-1zM27 24h1v1h-1zM29 39h1v1h-1z"/>
<path fill="#6c1215" d="M17 16h1v1h-1zM16 23h1v1h-1zM33 39h1v1h-1z"/>
<path fill="#631214" d="M18 16h1v1h-1zM39 34h1v1h-1zM31 35h1v1h-1z"/>
<path fill="#380e0e" d="M19 16h1v1h-1zM29 19h1v1h-1zM13 23h1v1h-1zM14 24h1v1h-1zM18 28h1v1h-1zM24 34h1v1h-1zM24 36h1v1h-1z"/>
<path fill="#5e1213" d="M20 16h1v1h-1zM30 26h1v1h-1zM39 31h1v1h-1zM24 32h1v1h-1z"/>
<path fill="#240b0b" d="M25 16h1v1h-1zM36 18h1v1h-1zM38 18h1v1h-1zM37 25h1v1h-1zM38 26h1v1h-1zM19 34h1v1h-1z"/>
<path fill="#3a0f0f" d="M26 16h1v1h-1zM33 24h1v1h-1zM35 28h1v1h-1zM20 29h1v1h-1zM20 33h1v1h-1zM21 35h1v1h-1zM18 38h2v1h-2zM18 39h1v1h-1z"/>
<path fill="#340e0e" d="M28 16h1v1h-1zM27 17h1v1h-1zM27 18h1v1h-1zM35 24h1v1h-1zM16 26h1v1h-1zM17 36h1v1h-1zM23 39h1v1h-1z"/>
<path fill="#2d0c0c" d="M31 16h1v1h-1zM35 22h1v1h-1zM36 23h1v1h-1zM34 24h1v1h-1zM18 31h1v1h-1zM18 34h1v1h-1zM17 37h1v1h-1z"/>
<path fill="#5c1213" d="M12 17h1v1h-1zM26 37h1v1h-1z"/>
<path fill="#821417" d="M13 17h1v1h-1zM18 17h2v1h-2zM27 22h1v1h-1zM31 27h1v1h-1zM37 32h1v1h-1z"/>
<path fill="#d92029" d="M16 17h1v1h-1z"/>
<path fill="#9f171d" d="M17 17h1v1h-1zM24 21h1v1h-1zM33 34h1v1h-1zM30 38h1v1h-1z"/>
<path fill="#771316" d="M20 17h1v1h-1zM22 27h1v1h-1z"/>
<path fill="#7a1316" d="M21 17h1v1h-1zM28 34h1v1h-1zM34 35h1v1h-1zM29 37h1v1h-1zM32 39h1v1h-1z"/>
<path fill="#300d0d" d="M26 17h1v1h-1zM12 19h1v1h-1zM36 25h1v1h-1zM20 32h1v1h-1zM22 37h1v1h-1zM20 39h1v1h-1z"/>
<path fill="#160808" d="M9 18h1v1h-1z"/>
<path fill="#561112" d="M12 18h1v1h-1zM23 28h1v1h-1z"/>
<path fill="#581113" d="M14 18h1v1h-1z"/>
<path fill="#cd1e27" d="M15 18h1v1h-1zM34 34h1v1h-1z"/>
<path fill="#dc2029" d="M16 18h1v1h-1zM24 26h1v1h-1zM29 29h1v1h-1z"/>
<path fill="#d61f29" d="M18 18h1v1h-1z"/>
<path fill="#b91b23" d="M19 18h1v1h-1zM15 19h1v1h-1zM23 20h1v1h-1zM37 33h1v1h-1zM36 36h1v1h-1z"/>
<path fill="#ab1920" d="M20 18h1v1h-1z"/>
<path fill="#621214" d="M21 18h1v1h-1zM15 22h1v1h-1zM31 37h1v1h-1z"/>
<path fill="#511112" d="M14 19h1v1h-1zM23 19h1v1h-1zM25 32h1v1h-1z"/>
<path fill="#c11c25" d="M20 19h1v1h-1z"/>
<path fill="#ac1920" d="M21 19h1v1h-1zM26 29h1v1h-1zM34 37h1v1h-1z"/>
<path fill="#93151a" d="M22 19h1v1h-1zM37 39h1v1h-1z"/>
<path fill="#421010" d="M28 19h1v1h-1zM30 23h1v1h-1zM34 23h1v1h-1zM19 25h1v1h-1z"/>
<path fill="#3b0f0f" d="M30 19h1v1h-1zM34 26h1v1h-1zM39 27h1v1h-1zM17 29h1v1h-1zM19 29h1v1h-1zM18 30h1v1h-1zM24 35h1v1h-1zM25 38h2v1h-2z"/>
<path fill="#110707" d="M10 20h1v1h-1z"/>
<path fill="#380f0f" d="M13 20h1v1h-1z"/>
<path fill="#6e1215" d="M14 20h1v1h-1zM30 34h1v1h-1z"/>
<path fill="#c21c25" d="M15 20h1v1h-1z"/>
<path fill="#b01921" d="M16 20h1v1h-1zM33 36h1v1h-1z"/>
<path fill="#cb1d27" d="M18 20h1v1h-1zM25 23h1v1h-1z"/>
<path fill="#e22129" d="M20 20h1v1h-1zM22 21h1v1h-1z"/>
<path fill="#e02129" d="M21 20h1v1h-1zM24 24h1v1h-1zM25 25h1v1h-1zM36 35h1v1h-1z"/>
<path fill="#611214" d="M24 20h1v1h-1zM28 21h1v1h-1zM19 24h1v1h-1zM31 25h1v1h-1zM24 28h1v1h-1z"/>
<path fill="#781316" d="M25 20h1v1h-1zM28 23h1v1h-1zM33 28h1v1h-1z"/>
<path fill="#711315" d="M26 20h1v1h-1zM29 24h1v1h-1zM31 26h1v1h-1zM24 29h1v1h-1zM28 37h1v1h-1z"/>
<path fill="#431010" d="M28 20h1v1h-1zM23 31h1v1h-1zM23 34h1v1h-1z"/>
<path fill="#481011" d="M30 20h1v1h-1zM18 25h1v1h-1zM20 28h1v1h-1z"/>
<path fill="#360e0e" d="M13 21h1v1h-1zM14 27h1v1h-1zM37 29h1v1h-1z"/>
<path fill="#8a1418" d="M15 21h1v1h-1zM28 24h1v1h-1zM25 28h1v1h-1zM30 39h1v1h-1z"/>
<path fill="#aa191f" d="M16 21h1v1h-1zM33 30h1v1h-1zM36 37h1v1h-1zM35 39h1v1h-1z"/>
<path fill="#d01e28" d="M17 21h1v1h-1zM24 22h1v1h-1zM21 23h1v1h-1zM33 31h1v1h-1zM33 33h1v1h-1z"/>
<path fill="#bf1c24" d="M19 21h1v1h-1zM17 22h1v1h-1zM31 28h1v1h-1z"/>
<path fill="#b71a22" d="M20 21h1v1h-1z"/>
<path fill="#b21a21" d="M23 21h1v1h-1z"/>
<path fill="#ab191f" d="M25 21h1v1h-1z"/>
<path fill="#a1171d" d="M26 21h1v1h-1z"/>
<path fill="#8c1418" d="M27 21h1v1h-1zM26 30h1v1h-1z"/>
<path fill="#330e0e" d="M31 21h1v1h-1z"/>
<path fill="#641214" d="M14 22h1v1h-1zM19 26h1v1h-1zM23 29h1v1h-1z"/>
<path fill="#8b1418" d="M18 22h1v1h-1zM22 26h1v1h-1zM28 32h1v1h-1z"/>
<path fill="#661214" d="M19 22h1v1h-1z"/>
<path fill="#9e171d" d="M20 22h1v1h-1z"/>
<path fill="#d41f28" d="M21 22h1v1h-1zM24 23h1v1h-1zM23 24h1v1h-1z"/>
<path fill="#e3212a" d="M22 22h1v1h-1zM23 23h1v1h-1zM36 34h1v1h-1z"/>
<path fill="#a2171e" d="M25 22h1v1h-1z"/>
<path fill="#571113" d="M28 22h1v1h-1zM19 23h1v1h-1zM20 26h1v1h-1z"/>
<path fill="#531112" d="M15 23h1v1h-1z"/>
<path fill="#a6181e" d="M17 23h1v1h-1z"/>
<path fill="#791316" d="M18 23h1v1h-1zM38 32h1v1h-1z"/>
<path fill="#a7181f" d="M20 23h1v1h-1z"/>
<path fill="#9a161c" d="M26 23h1v1h-1z"/>
<path fill="#861418" d="M27 23h1v1h-1zM25 30h1v1h-1zM26 31h1v1h-1z"/>
<path fill="#671214" d="M29 23h1v1h-1z"/>
<path fill="#4c1111" d="M31 23h1v1h-1zM17 28h1v1h-1z"/>
<path fill="#290c0c" d="M37 23h1v1h-1zM38 24h1v1h-1zM15 25h1v1h-1zM38 25h1v1h-1zM14 31h2v1h-2zM17 32h1v1h-1zM19 33h1v1h-1z"/>
<path fill="#4b1111" d="M15 24h1v1h-1zM18 27h1v1h-1zM25 36h1v1h-1z"/>
<path fill="#541112" d="M16 24h1v1h-1zM17 26h1v1h-1zM39 32h1v1h-1zM26 34h1v1h-1z"/>
<path fill="#701315" d="M17 24h1v1h-1z"/>
<path fill="#651214" d="M18 24h1v1h-1zM38 31h1v1h-1z"/>
<path fill="#601214" d="M20 24h1v1h-1z"/>
<path fill="#b51a22" d="M21 24h1v1h-1z"/>
<path fill="#cc1d27" d="M26 24h1v1h-1zM29 30h1v1h-1zM36 38h1v1h-1z"/>
<path fill="#4d1111" d="M30 24h1v1h-1zM33 27h1v1h-1zM25 35h1v1h-1zM27 35h1v1h-1zM24 39h1v1h-1z"/>
<path fill="#4e1112" d="M17 25h1v1h-1zM30 25h1v1h-1zM22 30h1v1h-1zM27 34h1v1h-1zM27 36h1v1h-1z"/>
<path fill="#9b161c" d="M22 25h1v1h-1zM26 28h1v1h-1zM28 31h1v1h-1zM35 38h1v1h-1z"/>
<path fill="#bb1b23" d="M26 25h1v1h-1z"/>
<path fill="#501112" d="M18 26h1v1h-1zM17 27h1v1h-1zM23 32h1v1h-1zM27 37h1v1h-1z"/>
<path fill="#be1b24" d="M23 26h1v1h-1zM28 30h1v1h-1z"/>
<path fill="#d21e28" d="M25 26h1v1h-1z"/>
<path fill="#6f1315" d="M29 26h1v1h-1zM27 38h1v1h-1z"/>
<path fill="#6e1315" d="M32 26h1v1h-1z"/>
<path fill="#2e0d0d" d="M37 26h1v1h-1zM21 39h2v1h-2z"/>
<path fill="#811417" d="M20 27h1v1h-1zM25 29h1v1h-1z"/>
<path fill="#841417" d="M21 27h1v1h-1zM23 27h1v1h-1z"/>
<path fill="#a4181e" d="M25 27h1v1h-1zM29 33h1v1h-1zM37 38h1v1h-1z"/>
<path fill="#ad1920" d="M26 27h1v1h-1zM31 32h1v1h-1z"/>
<path fill="#df2129" d="M27 27h1v1h-1zM32 30h1v1h-1zM35 34h1v1h-1z"/>
<path fill="#df2029" d="M28 27h1v1h-1z"/>
<path fill="#c31c25" d="M29 27h1v1h-1zM30 31h1v1h-1zM32 33h1v1h-1z"/>
<path fill="#721315" d="M30 27h1v1h-1zM26 32h1v1h-1z"/>
<path fill="#491011" d="M21 28h1v1h-1z"/>
<path fill="#4e1111" d="M22 28h1v1h-1z"/>
<path fill="#c71d26" d="M27 28h1v1h-1z"/>
<path fill="#d31e28" d="M28 28h1v1h-1zM32 32h1v1h-1z"/>
<path fill="#ae1920" d="M30 28h1v1h-1z"/>
<path fill="#8e1519" d="M32 28h1v1h-1zM35 31h1v1h-1zM32 35h1v1h-1z"/>
<path fill="#461011" d="M34 28h1v1h-1zM26 33h1v1h-1zM25 39h2v1h-2z"/>
<path fill="#1f0909" d="M13 29h1v1h-1zM13 30h1v1h-1zM14 32h1v1h-1zM14 33h1v1h-1zM14 35h1v1h-1zM14 37h1v1h-1z"/>
<path fill="#b81b23" d="M31 29h1v1h-1z"/>
<path fill="#8f1519" d="M33 29h1v1h-1z"/>
<path fill="#2b0c0c" d="M15 30h2v1h-2zM17 34h1v1h-1zM17 35h1v1h-1z"/>
<path fill="#290b0b" d="M20 30h1v1h-1zM21 32h2v1h-2z"/>
<path fill="#4a1111" d="M23 30h1v1h-1z"/>
<path fill="#761316" d="M24 30h1v1h-1zM28 39h1v1h-1z"/>
<path fill="#bc1b23" d="M30 30h1v1h-1zM34 32h1v1h-1zM36 39h1v1h-1z"/>
<path fill="#e2212a" d="M31 30h1v1h-1zM37 36h1v1h-1z"/>
<path fill="#851417" d="M34 30h1v1h-1zM28 33h1v1h-1z"/>
<path fill="#8c1419" d="M35 30h1v1h-1z"/>
<path fill="#6a1215" d="M36 30h1v1h-1zM34 38h1v1h-1zM27 39h1v1h-1z"/>
<path fill="#b31a21" d="M25 31h1v1h-1z"/>
<path fill="#94151a" d="M27 31h1v1h-1z"/>
<path fill="#95161b" d="M29 31h1v1h-1zM29 35h1v1h-1z"/>
<path fill="#a9181f" d="M34 31h1v1h-1zM35 35h1v1h-1z"/>
<path fill="#681214" d="M36 31h1v1h-1z"/>
<path fill="#6b1215" d="M37 31h1v1h-1z"/>
<path fill="#9d171c" d="M27 32h1v1h-1zM31 39h1v1h-1z"/>
<path fill="#92151a" d="M29 32h1v1h-1z"/>
<path fill="#7e1317" d="M30 32h1v1h-1zM35 36h1v1h-1zM29 38h1v1h-1z"/>
<path fill="#d91f29" d="M35 32h1v1h-1z"/>
<path fill="#9c171c" d="M36 32h1v1h-1z"/>
<path fill="#441010" d="M22 33h1v1h-1z"/>
<path fill="#a8181f" d="M30 33h1v1h-1z"/>
<path fill="#691214" d="M39 33h1v1h-1zM33 37h1v1h-1z"/>
<path fill="#881418" d="M29 34h1v1h-1z"/>
<path fill="#891418" d="M31 34h1v1h-1z"/>
<path fill="#91151a" d="M32 34h1v1h-1z"/>
<path fill="#99161c" d="M33 35h1v1h-1z"/>
<path fill="#bd1b24" d="M39 35h1v1h-1z"/>
<path fill="#731315" d="M28 36h1v1h-1z"/>
<path fill="#7c1317" d="M29 36h1v1h-1zM30 37h1v1h-1z"/>
<path fill="#b41a22" d="M34 36h1v1h-1z"/>
<path fill="#e6222a" d="M38 36h1v1h-1z"/>
<path fill="#e4212a" d="M39 36h1v1h-1zM38 37h1v1h-1z"/>
<path fill="#e5212a" d="M39 37h1v1h-1z"/>
<path fill="#5b1113" d="M28 38h1v1h-1zM32 38h1v1h-1z"/>
<path fill="#af1920" d="M38 38h1v1h-1z"/>
<path fill="#5d1213" d="M34 39h1v1h-1z"/>
<path fill="#98161b" d="M39 39h1v1h-1z"/>
</g></g>
<defs><linearGradient id="cbB" x1="0" y1="0" x2="0" y2="1"><stop offset="0.000" stop-color="#fffff8"/><stop offset="0.050" stop-color="#fefbe1"/><stop offset="0.110" stop-color="#faf296"/><stop offset="0.170" stop-color="#f6ea34"/><stop offset="0.280" stop-color="#f5e220"/><stop offset="0.350" stop-color="#f7b520"/><stop offset="0.420" stop-color="#f48020"/><stop offset="0.520" stop-color="#ee4024"/><stop offset="0.600" stop-color="#ea222a"/><stop offset="0.730" stop-color="#c41c24"/><stop offset="0.830" stop-color="#640e12"/><stop offset="0.940" stop-color="#200a0a"/><stop offset="1.000" stop-color="#120808"/></linearGradient></defs><rect x="745.5" y="23.3" width="26.3" height="342.5" fill="url(#cbB)" stroke="#a0a0a0" stroke-width="0.8"/>
<line x1="382" y1="27.6" x2="386.2" y2="27.6" stroke="#888" stroke-width="1"/>
<line x1="382" y1="194.6" x2="386.2" y2="194.6" stroke="#888" stroke-width="1"/>
<line x1="382" y1="361.5" x2="386.2" y2="361.5" stroke="#888" stroke-width="1"/>
<line x1="390.5" y1="365.8" x2="390.5" y2="370" stroke="#888" stroke-width="1"/>
<line x1="557.5" y1="365.8" x2="557.5" y2="370" stroke="#888" stroke-width="1"/>
<line x1="724.4" y1="365.8" x2="724.4" y2="370" stroke="#888" stroke-width="1"/>
<line x1="390.5" y1="27.6" x2="724.4" y2="361.5" stroke="#b8d868" stroke-width="2.3" stroke-dasharray="0 3.5" stroke-linecap="round"/>
<polyline points="390.6,28.5 447.6,84.6 459.0,105.1 477.2,104.0 486.4,121.1 494.3,121.1 504.6,146.2 520.6,173.2 534.6,173.2 545.2,197.7 553.2,191.1 562.4,224.9 571.1,208.4 578.4,213.7 587.6,241.5 599.6,232.2 604.9,232.2 621.4,267.1 627.9,267.1 639.0,258.8 648.3,275.5 656.6,275.5 664.1,343.3 672.4,335.8 681.7,352.6 691.0,360.9 699.4,301.5 707.7,343.3 716.1,327.5 725.3,360.9" fill="none" stroke="#4461c2" stroke-width="6.4" stroke-linejoin="round" stroke-linecap="round" />
<text transform="translate(369.85,33.03) scale(0.9457,1)" font-size="17.18" fill="#4d4d4d" >0</text>
<text transform="translate(369.45,199.83) scale(1.0922,1)" font-size="17.14" fill="#4d4d4d" >5</text>
<text transform="translate(362.63,366.83) scale(1.0160,1)" font-size="16.90" fill="#4d4d4d" >10</text>
<text transform="translate(386.83,388.63) scale(1.0028,1)" font-size="16.62" fill="#4d4d4d" >0</text>
<text transform="translate(553.16,389.04) scale(1.1467,1)" font-size="16.14" fill="#4d4d4d" >5</text>
<text transform="translate(717.19,388.44) scale(1.0758,1)" font-size="16.34" fill="#4d4d4d" >10</text>
<text transform="translate(753.79,383.23) scale(1.0655,1)" font-size="16.62" fill="#4d4d4d" >0</text>
<text transform="translate(741.30,12.58) scale(1.0343,1)" font-size="16.97" fill="#4d4d4d" >0.34</text>
<text transform="translate(354.50,278.57) rotate(-90)" font-size="22.14" fill="#4d4d4d">Decoded time (s)</text>
<text transform="translate(784.50,97.44) rotate(90)" font-size="22.01" fill="#4d4d4d">Posterior probability</text>
<text transform="translate(493.59,407.64) scale(1.0424,1)" font-size="21.70" fill="#4d4d4d" >Real time (s)</text>
<line x1="372.3" y1="490.2" x2="519" y2="490.2" stroke="#6cc04a" stroke-width="1.6"/>
<line x1="529" y1="490.2" x2="564" y2="490.2" stroke="#6cc04a" stroke-width="1.6"/>
<polyline points="372.0,688.1 376.9,686.9 381.8,683.2 386.7,686.9 391.7,686.6 396.6,685.8 401.5,689.9 406.4,686.4 411.3,684.0 416.2,681.1 421.1,687.3 426.1,683.4 431.0,686.0 435.9,676.6 440.8,676.7 445.7,684.2 450.6,670.2 455.6,669.7 460.5,673.8 465.4,673.4 470.3,680.1 475.2,681.4 480.1,671.8 485.0,678.6 490.0,676.0 494.9,675.9 499.8,679.8 504.7,671.2 509.6,670.1 514.5,661.3 519.5,666.1 524.4,662.6 529.3,664.5 534.2,660.5 539.1,663.9 544.0,666.9 548.9,651.3 553.9,649.6 558.8,649.8 563.7,652.2 568.6,655.0" fill="none" stroke="#dedede" stroke-width="0.9" stroke-linejoin="round" stroke-linecap="round" stroke-linejoin="miter"/>
<polyline points="372.0,689.0 376.9,688.1 381.8,689.7 386.7,682.6 391.7,686.2 396.6,681.8 401.5,686.4 406.4,680.1 411.3,679.8 416.2,688.1 421.1,683.0 426.1,672.4 431.0,677.7 435.9,670.8 440.8,676.5 445.7,679.2 450.6,670.1 455.6,667.1 460.5,674.0 465.4,675.7 470.3,671.6 475.2,660.2 480.1,661.4 485.0,670.5 490.0,667.7 494.9,671.2 499.8,672.2 504.7,657.8 509.6,666.8 514.5,658.0 519.5,658.5 524.4,661.8 529.3,650.3 534.2,661.2 539.1,649.9 544.0,659.7 548.9,652.7 553.9,655.0 558.8,649.7 563.7,633.8 568.6,629.2" fill="none" stroke="#dedede" stroke-width="0.9" stroke-linejoin="round" stroke-linecap="round" stroke-linejoin="miter"/>
<polyline points="372.0,687.4 376.9,681.8 381.8,687.1 386.7,684.7 391.7,680.4 396.6,682.5 401.5,688.0 406.4,678.4 411.3,685.0 416.2,682.9 421.1,673.3 426.1,676.0 431.0,676.3 435.9,678.9 440.8,676.4 445.7,667.5 450.6,670.5 455.6,664.4 460.5,667.2 465.4,664.5 470.3,656.1 475.2,661.6 480.1,657.5 485.0,651.0 490.0,661.4 494.9,663.2 499.8,650.3 504.7,650.0 509.6,657.5 514.5,656.3 519.5,644.0 524.4,637.9 529.3,651.1 534.2,634.8 539.1,634.8 544.0,639.1 548.9,641.9 553.9,646.0 558.8,642.3 563.7,621.4 568.6,627.0" fill="none" stroke="#dedede" stroke-width="0.9" stroke-linejoin="round" stroke-linecap="round" stroke-linejoin="miter"/>
<polyline points="372.0,683.4 376.9,686.6 381.8,680.7 386.7,681.8 391.7,685.0 396.6,686.3 401.5,680.5 406.4,687.4 411.3,683.6 416.2,677.9 421.1,670.4 426.1,670.1 431.0,674.1 435.9,665.5 440.8,672.1 445.7,672.2 450.6,666.8 455.6,663.1 460.5,668.2 465.4,664.8 470.3,661.3 475.2,656.0 480.1,660.1 485.0,654.5 490.0,644.6 494.9,644.3 499.8,650.0 504.7,647.3 509.6,646.1 514.5,651.5 519.5,651.3 524.4,649.4 529.3,630.6 534.2,633.2 539.1,626.3 544.0,644.1 548.9,630.3 553.9,630.4 558.8,619.0 563.7,627.2 568.6,600.0" fill="none" stroke="#dedede" stroke-width="0.9" stroke-linejoin="round" stroke-linecap="round" stroke-linejoin="miter"/>
<polyline points="372.0,688.1 376.9,683.4 381.8,680.8 386.7,678.2 391.7,679.9 396.6,680.2 401.5,679.0 406.4,677.4 411.3,681.3 416.2,675.3 421.1,668.3 426.1,665.1 431.0,670.5 435.9,665.2 440.8,661.1 445.7,662.1 450.6,659.1 455.6,661.2 460.5,657.6 465.4,655.3 470.3,662.7 475.2,651.6 480.1,642.6 485.0,642.2 490.0,643.4 494.9,650.6 499.8,644.9 504.7,645.3 509.6,644.4 514.5,634.0 519.5,645.6 524.4,630.3 529.3,642.7 534.2,629.8 539.1,630.6 544.0,634.2 548.9,623.2 553.9,624.0 558.8,614.9 563.7,607.2 568.6,608.8" fill="none" stroke="#dedede" stroke-width="0.9" stroke-linejoin="round" stroke-linecap="round" stroke-linejoin="miter"/>
<polyline points="372.0,688.2 376.9,685.0 381.8,680.8 386.7,684.1 391.7,684.8 396.6,677.5 401.5,679.8 406.4,681.9 411.3,674.4 416.2,678.4 421.1,669.7 426.1,671.7 431.0,668.6 435.9,663.3 440.8,658.5 445.7,655.7 450.6,660.1 455.6,655.9 460.5,659.0 465.4,659.7 470.3,653.5 475.2,645.6 480.1,641.8 485.0,641.6 490.0,636.3 494.9,649.2 499.8,651.5 504.7,644.2 509.6,643.7 514.5,641.6 519.5,635.1 524.4,628.3 529.3,629.1 534.2,630.9 539.1,618.6 544.0,613.7 548.9,623.4 553.9,627.7 558.8,621.7 563.7,602.4 568.6,606.7" fill="none" stroke="#dedede" stroke-width="0.9" stroke-linejoin="round" stroke-linecap="round" stroke-linejoin="miter"/>
<polyline points="372.0,682.0 376.9,682.3 381.8,683.7 386.7,678.1 391.7,685.8 396.6,684.9 401.5,681.4 406.4,685.9 411.3,674.5 416.2,678.7 421.1,674.9 426.1,672.3 431.0,664.9 435.9,666.7 440.8,660.9 445.7,657.3 450.6,652.5 455.6,648.7 460.5,651.8 465.4,656.9 470.3,651.9 475.2,653.9 480.1,653.0 485.0,643.2 490.0,637.8 494.9,648.5 499.8,647.3 504.7,643.6 509.6,633.3 514.5,633.1 519.5,628.4 524.4,622.6 529.3,627.8 534.2,618.0 539.1,613.8 544.0,628.7 548.9,609.7 553.9,610.1 558.8,615.4 563.7,607.4 568.6,588.6" fill="none" stroke="#dedede" stroke-width="0.9" stroke-linejoin="round" stroke-linecap="round" stroke-linejoin="miter"/>
<polyline points="372.0,679.6 376.9,683.3 381.8,680.5 386.7,676.3 391.7,677.2 396.6,675.7 401.5,680.4 406.4,678.2 411.3,680.2 416.2,671.6 421.1,664.9 426.1,662.7 431.0,661.5 435.9,667.3 440.8,654.5 445.7,649.7 450.6,646.8 455.6,651.3 460.5,646.7 465.4,651.3 470.3,641.3 475.2,639.1 480.1,643.1 485.0,644.8 490.0,637.5 494.9,637.4 499.8,633.9 504.7,636.1 509.6,640.1 514.5,622.1 519.5,632.8 524.4,615.5 529.3,625.6 534.2,620.5 539.1,609.3 544.0,620.6 548.9,619.0 553.9,607.0 558.8,594.2 563.7,590.5 568.6,577.3" fill="none" stroke="#dedede" stroke-width="0.9" stroke-linejoin="round" stroke-linecap="round" stroke-linejoin="miter"/>
<polyline points="372.0,678.7 376.9,681.5 381.8,676.2 386.7,682.8 391.7,681.9 396.6,679.0 401.5,681.3 406.4,676.4 411.3,674.2 416.2,672.5 421.1,662.6 426.1,661.3 431.0,664.2 435.9,662.7 440.8,652.4 445.7,647.7 450.6,654.2 455.6,643.3 460.5,640.5 465.4,644.4 470.3,642.6 475.2,645.2 480.1,635.5 485.0,633.1 490.0,629.8 494.9,641.7 499.8,625.7 504.7,630.6 509.6,628.0 514.5,616.5 519.5,617.4 524.4,615.2 529.3,609.0 534.2,619.2 539.1,607.6 544.0,607.9 548.9,594.9 553.9,590.7 558.8,595.8 563.7,590.2 568.6,580.0" fill="none" stroke="#dedede" stroke-width="0.9" stroke-linejoin="round" stroke-linecap="round" stroke-linejoin="miter"/>
<polyline points="372.0,682.3 376.9,677.9 381.8,675.8 386.7,678.2 391.7,680.1 396.6,681.5 401.5,676.9 406.4,673.3 411.3,678.6 416.2,668.0 421.1,670.4 426.1,663.5 431.0,662.9 435.9,656.3 440.8,656.6 445.7,652.0 450.6,645.1 455.6,650.5 460.5,640.4 465.4,646.6 470.3,639.7 475.2,640.3 480.1,636.4 485.0,627.9 490.0,627.8 494.9,631.0 499.8,630.7 504.7,625.4 509.6,627.0 514.5,621.9 519.5,610.1 524.4,606.1 529.3,605.7 534.2,596.9 539.1,599.2 544.0,591.7 548.9,603.0 553.9,587.1 558.8,575.8 563.7,572.3 568.6,565.9" fill="none" stroke="#dedede" stroke-width="0.9" stroke-linejoin="round" stroke-linecap="round" stroke-linejoin="miter"/>
<polyline points="372.0,682.8 376.9,676.4 381.8,681.3 386.7,672.5 391.7,673.7 396.6,681.4 401.5,680.1 406.4,674.7 411.3,676.2 416.2,674.7 421.1,659.2 426.1,658.8 431.0,653.9 435.9,661.6 440.8,653.3 445.7,645.1 450.6,650.8 455.6,646.3 460.5,638.2 465.4,631.7 470.3,629.6 475.2,639.1 480.1,627.9 485.0,620.4 490.0,622.7 494.9,621.9 499.8,630.9 504.7,629.7 509.6,623.7 514.5,620.4 519.5,606.8 524.4,603.4 529.3,599.8 534.2,605.6 539.1,602.4 544.0,599.6 548.9,584.5 553.9,575.7 558.8,566.6 563.7,583.4 568.6,563.7" fill="none" stroke="#dedede" stroke-width="0.9" stroke-linejoin="round" stroke-linecap="round" stroke-linejoin="miter"/>
<polyline points="372.0,677.0 376.9,679.9 381.8,675.7 386.7,678.1 391.7,677.2 396.6,676.9 401.5,677.5 406.4,675.3 411.3,678.1 416.2,666.7 421.1,657.7 426.1,660.1 431.0,656.4 435.9,652.0 440.8,651.3 445.7,649.6 450.6,646.4 455.6,639.3 460.5,645.5 465.4,629.3 470.3,629.4 475.2,626.9 480.1,619.0 485.0,619.2 490.0,621.0 494.9,620.0 499.8,622.1 504.7,609.9 509.6,607.3 514.5,612.3 519.5,595.8 524.4,594.6 529.3,591.1 534.2,587.6 539.1,593.2 544.0,580.4 548.9,578.6 553.9,576.7 558.8,564.2 563.7,562.8 568.6,549.0" fill="none" stroke="#dedede" stroke-width="0.9" stroke-linejoin="round" stroke-linecap="round" stroke-linejoin="miter"/>
<polyline points="372.0,678.2 376.9,682.6 381.8,678.8 386.7,675.8 391.7,680.7 396.6,677.6 401.5,674.3 406.4,674.1 411.3,674.4 416.2,662.4 421.1,657.8 426.1,655.8 431.0,651.5 435.9,651.7 440.8,646.8 445.7,643.8 450.6,631.4 455.6,634.0 460.5,631.8 465.4,627.5 470.3,622.8 475.2,633.5 480.1,618.4 485.0,612.6 490.0,618.5 494.9,618.7 499.8,625.3 504.7,619.0 509.6,609.7 514.5,609.6 519.5,602.3 524.4,585.2 529.3,589.1 534.2,587.1 539.1,574.9 544.0,580.2 548.9,569.0 553.9,570.4 558.8,555.0 563.7,569.6 568.6,534.8" fill="none" stroke="#dedede" stroke-width="0.9" stroke-linejoin="round" stroke-linecap="round" stroke-linejoin="miter"/>
<polyline points="372.0,679.9 376.9,685.0 381.8,675.9 386.7,681.6 391.7,679.0 396.6,682.2 401.5,678.7 406.4,677.2 411.3,680.0 416.2,666.8 421.1,666.7 426.1,660.6 431.0,659.4 435.9,661.7 440.8,658.5 445.7,649.5 450.6,647.6 455.6,649.7 460.5,642.4 465.4,645.9 470.3,649.3 475.2,642.5 480.1,641.2 485.0,636.5 490.0,624.9 494.9,633.1 499.8,624.6 504.7,624.0 509.6,631.7 514.5,610.2 519.5,607.2 524.4,620.1 529.3,601.6 534.2,608.6 539.1,605.4 544.0,592.9 548.9,606.3 553.9,595.5 558.8,577.2 563.7,580.5 568.6,567.4" fill="none" stroke="#dedede" stroke-width="0.9" stroke-linejoin="round" stroke-linecap="round" stroke-linejoin="miter"/>
<polyline points="372.0,683.1 376.9,683.9 381.8,685.2 386.7,689.2 391.7,684.5 396.6,686.2 401.5,688.8 406.4,690.4 411.3,684.0 416.2,687.4 421.1,681.2 426.1,676.5 431.0,679.0 435.9,681.3 440.8,675.4 445.7,676.0 450.6,669.7 455.6,672.4 460.5,665.1 465.4,664.6 470.3,667.4 475.2,673.7 480.1,674.0 485.0,660.1 490.0,661.1 494.9,664.6 499.8,669.3 504.7,669.7 509.6,660.3 514.5,660.7 519.5,658.7 524.4,656.4 529.3,653.1 534.2,663.3 539.1,661.3 544.0,645.4 548.9,645.9 553.9,644.6 558.8,658.9 563.7,658.1 568.6,646.1" fill="none" stroke="#dedede" stroke-width="0.9" stroke-linejoin="round" stroke-linecap="round" stroke-linejoin="miter"/>
<polyline points="372.0,683.4 376.9,680.7 381.8,684.3 386.7,679.0 391.7,683.8 396.6,684.0 401.5,677.7 406.4,678.8 411.3,674.9 416.2,674.9 421.1,667.9 426.1,666.8 431.0,665.0 435.9,659.2 440.8,653.9 445.7,660.5 450.6,657.1 455.6,645.6 460.5,647.3 465.4,642.6 470.3,650.1 475.2,643.8 480.1,642.3 485.0,630.5 490.0,636.3 494.9,633.3 499.8,627.7 504.7,636.5 509.6,628.0 514.5,620.4 519.5,613.6 524.4,619.6 529.3,618.6 534.2,621.9 539.1,604.1 544.0,618.3 548.9,616.8 553.9,602.2 558.8,595.3 563.7,589.7 568.6,581.1" fill="none" stroke="#dedede" stroke-width="0.9" stroke-linejoin="round" stroke-linecap="round" stroke-linejoin="miter"/>
<polyline points="372.0,683.1 376.9,688.5 381.8,686.7 386.7,681.7 391.7,687.5 396.6,685.5 401.5,681.0 406.4,681.1 411.3,683.6 416.2,683.5 421.1,677.3 426.1,669.9 431.0,674.2 435.9,677.1 440.8,666.8 445.7,666.2 450.6,659.4 455.6,657.8 460.5,657.4 465.4,662.8 470.3,656.6 475.2,662.3 480.1,659.4 485.0,656.3 490.0,646.4 494.9,648.1 499.8,659.5 504.7,655.7 509.6,652.7 514.5,650.2 519.5,647.5 524.4,645.4 529.3,647.9 534.2,639.2 539.1,633.1 544.0,636.9 548.9,629.6 553.9,632.4 558.8,635.2 563.7,621.7 568.6,607.7" fill="none" stroke="#dedede" stroke-width="0.9" stroke-linejoin="round" stroke-linecap="round" stroke-linejoin="miter"/>
<polyline points="372.0,687.9 376.9,689.7 381.8,684.8 386.7,683.7 391.7,683.7 396.6,679.7 401.5,682.7 406.4,680.8 411.3,687.3 416.2,680.3 421.1,674.1 426.1,680.2 431.0,680.2 435.9,671.5 440.8,667.0 445.7,675.9 450.6,666.7 455.6,672.7 460.5,663.5 465.4,663.4 470.3,669.1 475.2,667.8 480.1,656.7 485.0,659.1 490.0,654.1 494.9,661.4 499.8,662.6 504.7,649.8 509.6,652.5 514.5,653.5 519.5,650.8 524.4,645.3 529.3,644.3 534.2,638.9 539.1,647.8 544.0,638.0 548.9,640.4 553.9,633.8 558.8,629.8 563.7,628.4 568.6,617.4" fill="none" stroke="#dedede" stroke-width="0.9" stroke-linejoin="round" stroke-linecap="round" stroke-linejoin="miter"/>
<polyline points="372.0,690.0 395.0,684.0 418.0,652.0 454.5,605.0 502.0,560.0 530.0,527.0 564.0,495.0" fill="none" stroke="#dedede" stroke-width="0.9" stroke-linejoin="round" stroke-linecap="round" stroke-linejoin="miter"/>
<polyline points="372.0,689.0 420.0,672.0 470.0,640.0 517.6,590.0 545.0,570.0 560.0,560.0 568.6,520.0 569.0,515.0" fill="none" stroke="#dedede" stroke-width="0.9" stroke-linejoin="round" stroke-linecap="round" stroke-linejoin="miter"/>
<path d="M372.0,681.8 L379.5,680.4 L387.0,678.5 L394.5,678.9 L407.0,678.2 L414.5,673.6 L418.2,672.3 L423.2,664.8 L428.2,663.4 L434.5,664.1 L444.5,657.0 L453.2,652.3 L459.5,651.8 L464.5,649.2 L472.0,647.8 L482.0,640.2 L489.5,637.6 L497.0,640.0 L502.0,639.1 L512.0,631.0 L524.5,623.3 L534.5,619.4 L544.5,615.5 L552.0,613.4 L558.2,602.8 L564.5,601.5 L569.0,585.2 L569.0,594.8 L564.5,611.0 L558.2,612.2 L552.0,622.6 L544.5,624.5 L534.5,628.1 L524.5,631.7 L512.0,639.0 L502.0,646.9 L497.0,647.5 L489.5,644.9 L482.0,647.3 L472.0,654.7 L464.5,655.8 L459.5,658.2 L453.2,658.7 L444.5,663.0 L434.5,669.9 L428.2,669.1 L423.2,670.2 L418.2,677.7 L414.5,678.9 L407.0,683.2 L394.5,683.6 L387.0,683.0 L379.5,684.6 L372.0,685.8Z" fill="#b4b4b4"/>
<polyline points="372.0,588.8 377.0,589.5 387.0,600.0 397.0,610.0 409.5,620.0 422.0,626.2 442.0,630.0 459.5,629.5 472.0,626.2 484.5,620.0 497.0,615.0 509.5,605.0 522.0,595.0 534.5,587.5 547.0,577.5 557.0,567.5 564.5,561.2 568.6,550.0" fill="none" stroke="#e8262c" stroke-width="1.7" stroke-linejoin="round" stroke-linecap="round" />
<polyline points="372.0,683.8 379.5,682.5 387.0,680.8 394.5,681.2 407.0,680.8 414.5,676.2 418.2,675.0 423.2,667.5 428.2,666.2 434.5,667.0 444.5,660.0 453.2,655.5 459.5,655.0 464.5,652.5 472.0,651.2 482.0,643.8 489.5,641.2 497.0,643.8 502.0,643.0 512.0,635.0 524.5,627.5 534.5,623.8 544.5,620.0 552.0,618.0 558.2,607.5 564.5,606.2 569.0,590.0" fill="none" stroke="#111" stroke-width="1.9" stroke-linejoin="round" stroke-linecap="round" />
<line x1="372.5" y1="489" x2="372.5" y2="694" stroke="#4a4a4a" stroke-width="2.3"/>
<line x1="369.5" y1="690.4" x2="569.5" y2="690.4" stroke="#4a4a4a" stroke-width="2.3"/>
<text transform="translate(346.58,493.43) scale(1.0519,1)" font-size="16.90" fill="#4d4d4d" >10</text>
<text transform="translate(349.69,596.33) scale(1.1791,1)" font-size="17.14" fill="#4d4d4d" >5</text>
<text transform="translate(350.33,693.83) scale(1.0028,1)" font-size="16.62" fill="#4d4d4d" >0</text>
<text transform="translate(368.33,711.04) scale(1.0114,1)" font-size="16.48" fill="#4d4d4d" >0</text>
<text transform="translate(465.73,711.03) scale(1.1457,1)" font-size="16.71" fill="#4d4d4d" >5</text>
<text transform="translate(562.55,711.04) scale(1.1033,1)" font-size="16.48" fill="#4d4d4d" >10</text>
<text transform="translate(342.50,670.06) rotate(-90)" font-size="22.04" fill="#4d4d4d">Decode error (s)</text>
<text transform="translate(407.71,736.80) scale(1.0691,1)" font-size="20.96" fill="#4d4d4d" >Real time (s)</text>
<line x1="670.1" y1="446" x2="670.1" y2="694.2" stroke="#4a4a4a" stroke-width="2.4"/>
<line x1="669" y1="693.1" x2="777.4" y2="693.1" stroke="#4a4a4a" stroke-width="2.4"/>
<line x1="666.5" y1="684.3" x2="670" y2="684.3" stroke="#4a4a4a" stroke-width="2"/>
<line x1="666.5" y1="635.4" x2="670" y2="635.4" stroke="#4a4a4a" stroke-width="2"/>
<line x1="666.5" y1="586.5" x2="670" y2="586.5" stroke="#4a4a4a" stroke-width="2"/>
<line x1="666.5" y1="537.6" x2="670" y2="537.6" stroke="#4a4a4a" stroke-width="2"/>
<line x1="666.5" y1="488.7" x2="670" y2="488.7" stroke="#4a4a4a" stroke-width="2"/>
<line x1="706.8" y1="693" x2="706.8" y2="696.5" stroke="#4a4a4a" stroke-width="2"/>
<line x1="751.3" y1="693" x2="751.3" y2="696.5" stroke="#4a4a4a" stroke-width="2"/>
<text transform="translate(649.64,491.93) scale(1.1046,1)" font-size="17.14" fill="#4d4d4d" >5</text>
<text transform="translate(649.64,541.28) scale(0.9707,1)" font-size="18.38" fill="#4d4d4d" >4</text>
<text transform="translate(648.69,590.14) scale(1.2266,1)" font-size="16.48" fill="#4d4d4d" >3</text>
<text transform="translate(649.02,639.30) scale(1.1909,1)" font-size="16.43" fill="#4d4d4d" >2</text>
<text transform="translate(649.49,688.60) scale(0.8692,1)" font-size="17.39" fill="#4d4d4d" >1</text>
<text transform="translate(713.22,441.00) scale(1.0619,1)" font-size="25.00" fill="#111" stroke="#111" stroke-width="0.7">***</text>
<text transform="translate(635.20,651.78) rotate(-90)" font-size="22.21" fill="#4d4d4d">Decode error (s)</text>
<g fill="#c6c6c6" fill-opacity="0.65"><circle cx="754.5" cy="533.8" r="1.6"/><circle cx="749.6" cy="533.1" r="1.6"/><circle cx="750.4" cy="549.6" r="1.6"/><circle cx="753.7" cy="501.7" r="1.6"/><circle cx="752.8" cy="503.5" r="1.6"/><circle cx="752.6" cy="518.6" r="1.6"/><circle cx="754.8" cy="566.9" r="1.6"/><circle cx="754.4" cy="515.9" r="1.6"/><circle cx="744.9" cy="567.5" r="1.6"/><circle cx="749.1" cy="548.7" r="1.6"/><circle cx="751.2" cy="520.7" r="1.6"/><circle cx="747.8" cy="515.6" r="1.6"/><circle cx="753.8" cy="520.6" r="1.6"/><circle cx="760.9" cy="543.3" r="1.6"/><circle cx="758.5" cy="514.8" r="1.6"/><circle cx="747.4" cy="542.4" r="1.6"/><circle cx="750.9" cy="535.9" r="1.6"/><circle cx="752.9" cy="513.0" r="1.6"/><circle cx="746.0" cy="538.3" r="1.6"/><circle cx="758.4" cy="540.0" r="1.6"/><circle cx="752.8" cy="546.8" r="1.6"/><circle cx="742.7" cy="517.8" r="1.6"/><circle cx="759.3" cy="526.7" r="1.6"/><circle cx="750.4" cy="575.1" r="1.6"/><circle cx="746.6" cy="530.3" r="1.6"/><circle cx="751.1" cy="516.1" r="1.6"/><circle cx="755.0" cy="562.2" r="1.6"/><circle cx="756.9" cy="512.1" r="1.6"/><circle cx="753.2" cy="494.0" r="1.6"/><circle cx="743.7" cy="525.0" r="1.6"/><circle cx="748.0" cy="513.4" r="1.6"/><circle cx="744.3" cy="538.4" r="1.6"/><circle cx="748.8" cy="550.5" r="1.6"/><circle cx="741.7" cy="497.6" r="1.6"/><circle cx="752.5" cy="562.0" r="1.6"/><circle cx="754.1" cy="493.9" r="1.6"/><circle cx="742.8" cy="572.4" r="1.6"/><circle cx="747.1" cy="519.4" r="1.6"/><circle cx="756.2" cy="554.1" r="1.6"/><circle cx="752.3" cy="502.0" r="1.6"/><circle cx="754.1" cy="522.1" r="1.6"/><circle cx="754.2" cy="490.4" r="1.6"/><circle cx="754.7" cy="515.6" r="1.6"/><circle cx="756.6" cy="564.6" r="1.6"/><circle cx="754.3" cy="505.4" r="1.6"/><circle cx="749.4" cy="574.2" r="1.6"/><circle cx="741.5" cy="508.0" r="1.6"/><circle cx="757.5" cy="532.1" r="1.6"/><circle cx="758.7" cy="558.6" r="1.6"/><circle cx="750.6" cy="514.9" r="1.6"/><circle cx="755.4" cy="520.2" r="1.6"/><circle cx="758.4" cy="525.0" r="1.6"/><circle cx="749.2" cy="543.3" r="1.6"/><circle cx="751.6" cy="503.4" r="1.6"/><circle cx="756.4" cy="548.5" r="1.6"/><circle cx="749.5" cy="493.4" r="1.6"/><circle cx="750.9" cy="560.2" r="1.6"/><circle cx="749.7" cy="531.3" r="1.6"/><circle cx="746.7" cy="494.8" r="1.6"/><circle cx="745.3" cy="498.2" r="1.6"/><circle cx="754.8" cy="546.3" r="1.6"/><circle cx="755.9" cy="501.3" r="1.6"/><circle cx="752.3" cy="519.7" r="1.6"/><circle cx="755.0" cy="524.2" r="1.6"/><circle cx="753.1" cy="532.0" r="1.6"/><circle cx="751.5" cy="514.4" r="1.6"/><circle cx="754.7" cy="509.9" r="1.6"/><circle cx="752.7" cy="480.6" r="1.6"/><circle cx="749.4" cy="537.9" r="1.6"/><circle cx="757.0" cy="528.1" r="1.6"/><circle cx="753.7" cy="535.7" r="1.6"/><circle cx="741.5" cy="484.7" r="1.6"/><circle cx="752.7" cy="554.2" r="1.6"/><circle cx="752.9" cy="518.5" r="1.6"/><circle cx="755.3" cy="537.9" r="1.6"/><circle cx="748.4" cy="521.2" r="1.6"/><circle cx="752.6" cy="470.8" r="1.6"/><circle cx="750.9" cy="540.8" r="1.6"/><circle cx="751.1" cy="533.1" r="1.6"/><circle cx="750.3" cy="591.9" r="1.6"/><circle cx="745.3" cy="504.1" r="1.6"/><circle cx="757.2" cy="529.4" r="1.6"/><circle cx="759.7" cy="507.7" r="1.6"/><circle cx="750.2" cy="567.8" r="1.6"/><circle cx="755.1" cy="535.8" r="1.6"/><circle cx="737.7" cy="502.2" r="1.6"/><circle cx="744.0" cy="502.3" r="1.6"/><circle cx="743.0" cy="511.8" r="1.6"/><circle cx="758.7" cy="523.7" r="1.6"/><circle cx="752.6" cy="531.3" r="1.6"/><circle cx="752.3" cy="509.1" r="1.6"/><circle cx="760.6" cy="529.9" r="1.6"/><circle cx="750.0" cy="503.2" r="1.6"/><circle cx="755.8" cy="554.7" r="1.6"/><circle cx="752.3" cy="534.1" r="1.6"/><circle cx="752.8" cy="511.3" r="1.6"/><circle cx="742.7" cy="512.8" r="1.6"/><circle cx="754.0" cy="563.3" r="1.6"/><circle cx="746.3" cy="550.4" r="1.6"/><circle cx="756.8" cy="562.3" r="1.6"/><circle cx="759.8" cy="510.3" r="1.6"/><circle cx="751.5" cy="549.8" r="1.6"/><circle cx="755.1" cy="554.6" r="1.6"/><circle cx="747.6" cy="490.5" r="1.6"/><circle cx="755.8" cy="491.2" r="1.6"/><circle cx="739.8" cy="532.0" r="1.6"/><circle cx="751.1" cy="494.8" r="1.6"/><circle cx="753.7" cy="542.0" r="1.6"/><circle cx="760.4" cy="518.2" r="1.6"/><circle cx="757.1" cy="551.8" r="1.6"/><circle cx="758.0" cy="492.9" r="1.6"/><circle cx="747.1" cy="532.1" r="1.6"/><circle cx="752.1" cy="503.9" r="1.6"/><circle cx="760.0" cy="524.9" r="1.6"/><circle cx="738.0" cy="534.0" r="1.6"/><circle cx="740.8" cy="536.9" r="1.6"/><circle cx="753.3" cy="508.6" r="1.6"/><circle cx="751.4" cy="542.2" r="1.6"/><circle cx="751.9" cy="508.3" r="1.6"/><circle cx="751.2" cy="496.7" r="1.6"/><circle cx="759.3" cy="503.4" r="1.6"/><circle cx="748.6" cy="490.0" r="1.6"/><circle cx="741.3" cy="507.2" r="1.6"/><circle cx="742.0" cy="553.2" r="1.6"/><circle cx="745.1" cy="502.7" r="1.6"/><circle cx="750.3" cy="528.1" r="1.6"/><circle cx="748.0" cy="528.5" r="1.6"/><circle cx="762.2" cy="522.3" r="1.6"/><circle cx="754.7" cy="526.8" r="1.6"/><circle cx="750.5" cy="504.3" r="1.6"/><circle cx="749.0" cy="557.4" r="1.6"/><circle cx="743.0" cy="502.6" r="1.6"/><circle cx="757.1" cy="541.9" r="1.6"/><circle cx="751.5" cy="509.2" r="1.6"/><circle cx="752.4" cy="508.9" r="1.6"/><circle cx="744.2" cy="555.5" r="1.6"/><circle cx="756.6" cy="542.8" r="1.6"/><circle cx="746.5" cy="541.1" r="1.6"/><circle cx="743.4" cy="545.9" r="1.6"/><circle cx="744.5" cy="530.6" r="1.6"/><circle cx="737.5" cy="519.3" r="1.6"/><circle cx="747.7" cy="520.1" r="1.6"/><circle cx="754.0" cy="573.4" r="1.6"/><circle cx="738.4" cy="534.3" r="1.6"/><circle cx="753.0" cy="548.4" r="1.6"/><circle cx="755.9" cy="538.6" r="1.6"/><circle cx="755.2" cy="510.3" r="1.6"/><circle cx="759.4" cy="520.2" r="1.6"/><circle cx="754.1" cy="512.3" r="1.6"/><circle cx="754.4" cy="576.7" r="1.6"/><circle cx="750.1" cy="497.1" r="1.6"/><circle cx="762.5" cy="538.8" r="1.6"/><circle cx="753.2" cy="569.1" r="1.6"/><circle cx="748.7" cy="470.9" r="1.6"/><circle cx="762.2" cy="511.6" r="1.6"/><circle cx="754.8" cy="530.6" r="1.6"/><circle cx="746.6" cy="506.6" r="1.6"/><circle cx="753.2" cy="529.9" r="1.6"/><circle cx="751.3" cy="508.4" r="1.6"/><circle cx="745.5" cy="532.4" r="1.6"/><circle cx="756.7" cy="536.2" r="1.6"/><circle cx="746.4" cy="525.4" r="1.6"/><circle cx="765.4" cy="547.6" r="1.6"/><circle cx="754.7" cy="501.1" r="1.6"/><circle cx="753.1" cy="588.7" r="1.6"/><circle cx="761.4" cy="516.5" r="1.6"/><circle cx="751.1" cy="517.8" r="1.6"/><circle cx="740.2" cy="515.6" r="1.6"/><circle cx="753.2" cy="503.6" r="1.6"/><circle cx="758.7" cy="544.3" r="1.6"/><circle cx="746.0" cy="485.4" r="1.6"/><circle cx="753.1" cy="543.5" r="1.6"/><circle cx="749.1" cy="523.5" r="1.6"/><circle cx="762.1" cy="550.7" r="1.6"/><circle cx="745.2" cy="503.5" r="1.6"/><circle cx="759.0" cy="559.4" r="1.6"/><circle cx="761.2" cy="504.6" r="1.6"/><circle cx="746.7" cy="508.8" r="1.6"/><circle cx="738.6" cy="521.7" r="1.6"/><circle cx="751.2" cy="545.4" r="1.6"/><circle cx="747.3" cy="515.5" r="1.6"/><circle cx="754.2" cy="530.7" r="1.6"/><circle cx="755.3" cy="519.0" r="1.6"/><circle cx="749.6" cy="522.9" r="1.6"/><circle cx="751.8" cy="509.3" r="1.6"/><circle cx="748.2" cy="547.2" r="1.6"/><circle cx="750.8" cy="527.8" r="1.6"/><circle cx="751.5" cy="524.1" r="1.6"/><circle cx="750.7" cy="523.7" r="1.6"/><circle cx="753.4" cy="557.4" r="1.6"/><circle cx="753.8" cy="503.1" r="1.6"/><circle cx="754.1" cy="532.3" r="1.6"/><circle cx="742.0" cy="550.5" r="1.6"/><circle cx="745.9" cy="526.4" r="1.6"/><circle cx="745.4" cy="510.5" r="1.6"/><circle cx="748.8" cy="589.5" r="1.6"/><circle cx="749.8" cy="490.8" r="1.6"/><circle cx="748.2" cy="560.0" r="1.6"/><circle cx="754.4" cy="515.6" r="1.6"/><circle cx="760.4" cy="523.7" r="1.6"/><circle cx="751.4" cy="511.2" r="1.6"/><circle cx="761.0" cy="513.8" r="1.6"/><circle cx="757.0" cy="505.0" r="1.6"/><circle cx="750.8" cy="553.2" r="1.6"/><circle cx="749.8" cy="510.7" r="1.6"/><circle cx="754.6" cy="502.7" r="1.6"/><circle cx="750.3" cy="506.5" r="1.6"/><circle cx="755.0" cy="468.1" r="1.6"/><circle cx="752.0" cy="532.9" r="1.6"/><circle cx="750.5" cy="466.9" r="1.6"/><circle cx="756.9" cy="507.3" r="1.6"/><circle cx="744.5" cy="527.7" r="1.6"/><circle cx="753.7" cy="523.4" r="1.6"/><circle cx="755.5" cy="501.3" r="1.6"/><circle cx="756.6" cy="527.2" r="1.6"/><circle cx="752.7" cy="515.1" r="1.6"/><circle cx="750.0" cy="526.5" r="1.6"/><circle cx="745.5" cy="511.7" r="1.6"/><circle cx="751.5" cy="542.6" r="1.6"/><circle cx="749.7" cy="562.2" r="1.6"/><circle cx="749.2" cy="575.0" r="1.6"/><circle cx="754.8" cy="514.5" r="1.6"/><circle cx="750.1" cy="529.1" r="1.6"/><circle cx="759.3" cy="561.1" r="1.6"/><circle cx="757.9" cy="515.7" r="1.6"/><circle cx="750.5" cy="548.5" r="1.6"/><circle cx="754.3" cy="570.5" r="1.6"/><circle cx="741.3" cy="505.9" r="1.6"/><circle cx="755.3" cy="529.0" r="1.6"/><circle cx="744.8" cy="569.2" r="1.6"/><circle cx="748.4" cy="552.8" r="1.6"/><circle cx="751.6" cy="560.7" r="1.6"/><circle cx="755.3" cy="522.0" r="1.6"/><circle cx="760.0" cy="511.3" r="1.6"/><circle cx="744.9" cy="500.5" r="1.6"/><circle cx="745.5" cy="539.7" r="1.6"/><circle cx="751.1" cy="553.1" r="1.6"/><circle cx="754.4" cy="527.7" r="1.6"/><circle cx="746.6" cy="565.1" r="1.6"/><circle cx="750.3" cy="528.4" r="1.6"/><circle cx="751.1" cy="535.1" r="1.6"/><circle cx="755.2" cy="545.7" r="1.6"/><circle cx="751.0" cy="519.5" r="1.6"/><circle cx="750.5" cy="543.6" r="1.6"/><circle cx="749.1" cy="591.7" r="1.6"/><circle cx="742.5" cy="526.9" r="1.6"/><circle cx="752.4" cy="523.1" r="1.6"/><circle cx="750.4" cy="560.2" r="1.6"/><circle cx="754.2" cy="535.2" r="1.6"/><circle cx="751.3" cy="513.5" r="1.6"/><circle cx="750.7" cy="547.8" r="1.6"/><circle cx="755.9" cy="529.4" r="1.6"/><circle cx="747.2" cy="520.9" r="1.6"/><circle cx="749.9" cy="559.6" r="1.6"/><circle cx="745.5" cy="545.2" r="1.6"/><circle cx="748.6" cy="530.5" r="1.6"/><circle cx="754.6" cy="525.3" r="1.6"/><circle cx="764.9" cy="537.5" r="1.6"/><circle cx="757.9" cy="535.4" r="1.6"/><circle cx="758.2" cy="525.0" r="1.6"/><circle cx="749.4" cy="583.6" r="1.6"/><circle cx="755.1" cy="522.0" r="1.6"/><circle cx="752.5" cy="473.0" r="1.6"/><circle cx="755.2" cy="497.8" r="1.6"/><circle cx="754.2" cy="505.6" r="1.6"/><circle cx="754.5" cy="531.5" r="1.6"/><circle cx="757.2" cy="553.1" r="1.6"/><circle cx="752.7" cy="551.7" r="1.6"/><circle cx="750.7" cy="478.0" r="1.6"/><circle cx="758.5" cy="527.4" r="1.6"/><circle cx="746.7" cy="527.2" r="1.6"/><circle cx="755.0" cy="521.8" r="1.6"/><circle cx="747.1" cy="511.2" r="1.6"/><circle cx="758.2" cy="486.7" r="1.6"/><circle cx="753.1" cy="527.4" r="1.6"/><circle cx="759.6" cy="537.9" r="1.6"/><circle cx="755.1" cy="544.4" r="1.6"/><circle cx="747.6" cy="539.1" r="1.6"/><circle cx="759.0" cy="511.0" r="1.6"/><circle cx="747.4" cy="528.1" r="1.6"/><circle cx="751.2" cy="508.8" r="1.6"/><circle cx="760.6" cy="520.5" r="1.6"/><circle cx="748.9" cy="501.3" r="1.6"/><circle cx="751.5" cy="474.2" r="1.6"/><circle cx="747.9" cy="509.4" r="1.6"/><circle cx="741.0" cy="528.9" r="1.6"/><circle cx="756.9" cy="485.9" r="1.6"/><circle cx="744.6" cy="556.3" r="1.6"/><circle cx="756.1" cy="565.9" r="1.6"/><circle cx="751.2" cy="538.6" r="1.6"/><circle cx="750.8" cy="535.2" r="1.6"/><circle cx="751.6" cy="553.4" r="1.6"/><circle cx="751.2" cy="561.6" r="1.6"/><circle cx="754.3" cy="520.6" r="1.6"/><circle cx="746.2" cy="533.3" r="1.6"/><circle cx="748.6" cy="524.1" r="1.6"/><circle cx="754.9" cy="491.1" r="1.6"/><circle cx="748.7" cy="530.5" r="1.6"/><circle cx="746.4" cy="544.3" r="1.6"/><circle cx="753.2" cy="536.1" r="1.6"/><circle cx="754.8" cy="515.7" r="1.6"/><circle cx="749.0" cy="478.6" r="1.6"/><circle cx="768.2" cy="527.5" r="1.6"/><circle cx="749.7" cy="571.6" r="1.6"/><circle cx="752.4" cy="523.8" r="1.6"/><circle cx="750.1" cy="518.2" r="1.6"/><circle cx="751.8" cy="519.2" r="1.6"/><circle cx="740.9" cy="509.7" r="1.6"/><circle cx="751.5" cy="548.6" r="1.6"/><circle cx="746.4" cy="552.0" r="1.6"/><circle cx="747.8" cy="513.1" r="1.6"/><circle cx="755.8" cy="512.9" r="1.6"/><circle cx="754.5" cy="520.6" r="1.6"/><circle cx="743.1" cy="530.3" r="1.6"/><circle cx="754.2" cy="528.5" r="1.6"/><circle cx="750.9" cy="540.2" r="1.6"/><circle cx="746.6" cy="510.2" r="1.6"/><circle cx="762.2" cy="512.8" r="1.6"/><circle cx="752.3" cy="540.8" r="1.6"/><circle cx="760.6" cy="531.4" r="1.6"/><circle cx="756.8" cy="520.4" r="1.6"/><circle cx="751.4" cy="544.0" r="1.6"/><circle cx="740.9" cy="528.1" r="1.6"/><circle cx="755.6" cy="494.0" r="1.6"/><circle cx="754.3" cy="568.9" r="1.6"/><circle cx="754.2" cy="530.9" r="1.6"/><circle cx="742.6" cy="519.2" r="1.6"/><circle cx="760.3" cy="532.8" r="1.6"/><circle cx="745.8" cy="541.3" r="1.6"/><circle cx="746.2" cy="559.7" r="1.6"/><circle cx="761.6" cy="519.9" r="1.6"/><circle cx="752.9" cy="517.7" r="1.6"/><circle cx="749.8" cy="475.4" r="1.6"/><circle cx="754.4" cy="543.6" r="1.6"/><circle cx="745.6" cy="514.9" r="1.6"/><circle cx="752.9" cy="555.3" r="1.6"/><circle cx="743.7" cy="522.0" r="1.6"/><circle cx="748.3" cy="532.6" r="1.6"/><circle cx="750.8" cy="517.0" r="1.6"/><circle cx="749.4" cy="529.8" r="1.6"/><circle cx="758.7" cy="503.1" r="1.6"/><circle cx="756.4" cy="536.4" r="1.6"/><circle cx="751.9" cy="545.6" r="1.6"/><circle cx="760.0" cy="510.2" r="1.6"/><circle cx="751.1" cy="536.8" r="1.6"/><circle cx="742.5" cy="523.2" r="1.6"/><circle cx="747.4" cy="527.4" r="1.6"/><circle cx="744.8" cy="519.1" r="1.6"/><circle cx="751.6" cy="574.2" r="1.6"/><circle cx="748.2" cy="521.7" r="1.6"/><circle cx="750.0" cy="507.0" r="1.6"/><circle cx="754.1" cy="542.0" r="1.6"/><circle cx="748.8" cy="564.6" r="1.6"/><circle cx="756.6" cy="528.3" r="1.6"/><circle cx="753.3" cy="531.6" r="1.6"/><circle cx="753.2" cy="543.2" r="1.6"/><circle cx="748.6" cy="488.8" r="1.6"/><circle cx="749.5" cy="472.3" r="1.6"/><circle cx="752.5" cy="527.4" r="1.6"/><circle cx="745.0" cy="503.8" r="1.6"/><circle cx="753.4" cy="577.1" r="1.6"/><circle cx="755.0" cy="509.1" r="1.6"/><circle cx="753.0" cy="523.0" r="1.6"/><circle cx="753.5" cy="506.0" r="1.6"/><circle cx="746.3" cy="488.8" r="1.6"/><circle cx="731.6" cy="536.6" r="1.6"/><circle cx="749.4" cy="508.8" r="1.6"/><circle cx="763.1" cy="506.1" r="1.6"/><circle cx="750.0" cy="528.0" r="1.6"/><circle cx="746.8" cy="539.5" r="1.6"/><circle cx="755.0" cy="542.6" r="1.6"/><circle cx="751.9" cy="527.0" r="1.6"/><circle cx="756.9" cy="531.9" r="1.6"/><circle cx="750.7" cy="516.2" r="1.6"/><circle cx="750.6" cy="512.2" r="1.6"/><circle cx="758.4" cy="554.9" r="1.6"/><circle cx="745.9" cy="516.9" r="1.6"/><circle cx="753.3" cy="502.5" r="1.6"/><circle cx="758.0" cy="564.5" r="1.6"/><circle cx="756.8" cy="520.0" r="1.6"/><circle cx="750.6" cy="523.2" r="1.6"/><circle cx="755.4" cy="564.2" r="1.6"/><circle cx="749.8" cy="527.1" r="1.6"/><circle cx="752.0" cy="519.6" r="1.6"/><circle cx="749.4" cy="512.0" r="1.6"/><circle cx="738.7" cy="528.7" r="1.6"/><circle cx="755.4" cy="537.8" r="1.6"/><circle cx="749.8" cy="496.4" r="1.6"/><circle cx="760.9" cy="530.7" r="1.6"/><circle cx="755.8" cy="535.5" r="1.6"/><circle cx="751.7" cy="488.4" r="1.6"/><circle cx="748.0" cy="499.0" r="1.6"/><circle cx="751.0" cy="522.9" r="1.6"/><circle cx="758.3" cy="525.1" r="1.6"/><circle cx="749.5" cy="471.7" r="1.6"/><circle cx="754.3" cy="541.3" r="1.6"/><circle cx="753.9" cy="552.6" r="1.6"/><circle cx="749.9" cy="514.4" r="1.6"/><circle cx="742.5" cy="515.4" r="1.6"/><circle cx="742.8" cy="510.0" r="1.6"/><circle cx="748.5" cy="544.2" r="1.6"/><circle cx="756.4" cy="537.2" r="1.6"/><circle cx="749.1" cy="525.9" r="1.6"/><circle cx="760.7" cy="515.1" r="1.6"/><circle cx="753.7" cy="527.7" r="1.6"/><circle cx="752.8" cy="498.7" r="1.6"/><circle cx="762.7" cy="558.0" r="1.6"/><circle cx="744.9" cy="476.0" r="1.6"/><circle cx="754.0" cy="528.7" r="1.6"/><circle cx="755.1" cy="505.2" r="1.6"/><circle cx="745.3" cy="534.2" r="1.6"/><circle cx="757.7" cy="525.4" r="1.6"/><circle cx="746.5" cy="553.4" r="1.6"/><circle cx="739.9" cy="528.4" r="1.6"/><circle cx="748.9" cy="533.9" r="1.6"/><circle cx="747.4" cy="517.2" r="1.6"/><circle cx="749.5" cy="548.5" r="1.6"/><circle cx="747.5" cy="529.0" r="1.6"/><circle cx="756.0" cy="527.5" r="1.6"/><circle cx="760.0" cy="500.0" r="1.6"/><circle cx="749.3" cy="546.2" r="1.6"/><circle cx="756.6" cy="586.1" r="1.6"/><circle cx="751.3" cy="544.8" r="1.6"/><circle cx="743.6" cy="515.6" r="1.6"/><circle cx="751.3" cy="516.9" r="1.6"/><circle cx="752.5" cy="570.7" r="1.6"/><circle cx="742.2" cy="499.8" r="1.6"/><circle cx="752.7" cy="508.9" r="1.6"/><circle cx="754.1" cy="516.7" r="1.6"/><circle cx="750.4" cy="497.2" r="1.6"/><circle cx="749.3" cy="507.3" r="1.6"/><circle cx="746.9" cy="510.7" r="1.6"/><circle cx="761.8" cy="530.4" r="1.6"/><circle cx="750.6" cy="517.4" r="1.6"/><circle cx="747.8" cy="554.7" r="1.6"/><circle cx="757.1" cy="523.3" r="1.6"/><circle cx="754.6" cy="517.8" r="1.6"/><circle cx="759.6" cy="528.8" r="1.6"/><circle cx="748.3" cy="537.0" r="1.6"/><circle cx="751.8" cy="507.0" r="1.6"/><circle cx="748.1" cy="534.4" r="1.6"/><circle cx="755.2" cy="533.8" r="1.6"/><circle cx="744.3" cy="519.5" r="1.6"/><circle cx="752.6" cy="517.8" r="1.6"/><circle cx="755.3" cy="551.3" r="1.6"/><circle cx="749.5" cy="534.4" r="1.6"/><circle cx="758.8" cy="509.1" r="1.6"/><circle cx="753.9" cy="544.0" r="1.6"/><circle cx="763.5" cy="548.4" r="1.6"/><circle cx="758.3" cy="539.4" r="1.6"/><circle cx="756.0" cy="543.0" r="1.6"/><circle cx="743.1" cy="475.7" r="1.6"/><circle cx="754.4" cy="538.0" r="1.6"/><circle cx="747.5" cy="530.0" r="1.6"/><circle cx="751.8" cy="477.3" r="1.6"/><circle cx="754.8" cy="566.4" r="1.6"/><circle cx="755.8" cy="568.2" r="1.6"/><circle cx="752.3" cy="541.4" r="1.6"/><circle cx="752.1" cy="498.2" r="1.6"/><circle cx="744.2" cy="560.5" r="1.6"/><circle cx="755.2" cy="500.1" r="1.6"/><circle cx="756.0" cy="547.0" r="1.6"/><circle cx="755.3" cy="516.2" r="1.6"/><circle cx="750.6" cy="580.8" r="1.6"/><circle cx="755.5" cy="506.7" r="1.6"/><circle cx="738.1" cy="507.1" r="1.6"/><circle cx="754.5" cy="523.9" r="1.6"/><circle cx="748.8" cy="467.9" r="1.6"/><circle cx="751.7" cy="535.5" r="1.6"/><circle cx="749.1" cy="507.0" r="1.6"/><circle cx="747.5" cy="500.9" r="1.6"/><circle cx="748.3" cy="521.6" r="1.6"/><circle cx="747.4" cy="524.1" r="1.6"/><circle cx="755.8" cy="565.3" r="1.6"/><circle cx="748.2" cy="520.7" r="1.6"/><circle cx="757.4" cy="523.1" r="1.6"/><circle cx="750.9" cy="550.8" r="1.6"/><circle cx="754.6" cy="515.2" r="1.6"/><circle cx="739.2" cy="535.7" r="1.6"/><circle cx="753.1" cy="498.6" r="1.6"/><circle cx="749.8" cy="527.5" r="1.6"/><circle cx="749.0" cy="521.6" r="1.6"/><circle cx="747.9" cy="551.9" r="1.6"/><circle cx="748.1" cy="541.8" r="1.6"/><circle cx="754.5" cy="555.0" r="1.6"/><circle cx="754.4" cy="558.6" r="1.6"/><circle cx="753.2" cy="551.6" r="1.6"/><circle cx="752.5" cy="495.6" r="1.6"/><circle cx="751.8" cy="545.0" r="1.6"/><circle cx="741.1" cy="524.3" r="1.6"/><circle cx="752.4" cy="542.1" r="1.6"/><circle cx="752.0" cy="538.8" r="1.6"/><circle cx="755.8" cy="510.6" r="1.6"/><circle cx="754.7" cy="506.6" r="1.6"/><circle cx="751.4" cy="534.6" r="1.6"/><circle cx="749.7" cy="534.2" r="1.6"/><circle cx="741.3" cy="532.0" r="1.6"/><circle cx="751.4" cy="535.6" r="1.6"/><circle cx="751.4" cy="550.7" r="1.6"/><circle cx="750.5" cy="515.7" r="1.6"/><circle cx="742.3" cy="479.1" r="1.6"/><circle cx="740.7" cy="532.7" r="1.6"/><circle cx="765.6" cy="504.8" r="1.6"/><circle cx="751.8" cy="586.5" r="1.6"/><circle cx="749.7" cy="515.6" r="1.6"/><circle cx="738.5" cy="514.9" r="1.6"/><circle cx="753.5" cy="507.8" r="1.6"/><circle cx="748.0" cy="527.3" r="1.6"/><circle cx="748.7" cy="512.8" r="1.6"/><circle cx="748.4" cy="522.6" r="1.6"/><circle cx="751.4" cy="580.6" r="1.6"/><circle cx="756.0" cy="523.1" r="1.6"/><circle cx="751.3" cy="548.4" r="1.6"/><circle cx="752.3" cy="513.3" r="1.6"/><circle cx="761.3" cy="498.7" r="1.6"/><circle cx="741.7" cy="549.1" r="1.6"/><circle cx="759.9" cy="507.7" r="1.6"/><circle cx="755.9" cy="506.2" r="1.6"/><circle cx="747.6" cy="542.3" r="1.6"/><circle cx="746.5" cy="507.0" r="1.6"/><circle cx="747.9" cy="570.4" r="1.6"/><circle cx="757.1" cy="469.3" r="1.6"/><circle cx="747.5" cy="543.9" r="1.6"/><circle cx="747.0" cy="522.4" r="1.6"/><circle cx="751.1" cy="497.1" r="1.6"/><circle cx="757.8" cy="553.3" r="1.6"/><circle cx="752.7" cy="541.5" r="1.6"/><circle cx="749.6" cy="528.1" r="1.6"/><circle cx="747.4" cy="520.2" r="1.6"/><circle cx="743.7" cy="571.1" r="1.6"/><circle cx="748.1" cy="557.5" r="1.6"/><circle cx="751.8" cy="528.4" r="1.6"/><circle cx="752.2" cy="514.8" r="1.6"/><circle cx="747.8" cy="546.4" r="1.6"/><circle cx="751.0" cy="577.6" r="1.6"/><circle cx="754.6" cy="516.4" r="1.6"/><circle cx="750.5" cy="530.7" r="1.6"/><circle cx="751.6" cy="505.8" r="1.6"/><circle cx="754.8" cy="510.5" r="1.6"/><circle cx="759.3" cy="522.8" r="1.6"/><circle cx="749.5" cy="541.3" r="1.6"/><circle cx="747.3" cy="546.8" r="1.6"/><circle cx="759.2" cy="491.3" r="1.6"/><circle cx="754.9" cy="527.3" r="1.6"/><circle cx="755.6" cy="500.2" r="1.6"/><circle cx="745.2" cy="499.5" r="1.6"/><circle cx="754.0" cy="542.8" r="1.6"/><circle cx="752.0" cy="494.1" r="1.6"/><circle cx="749.7" cy="548.0" r="1.6"/><circle cx="746.8" cy="543.3" r="1.6"/><circle cx="748.7" cy="492.6" r="1.6"/><circle cx="764.5" cy="527.3" r="1.6"/><circle cx="753.2" cy="500.0" r="1.6"/><circle cx="753.8" cy="542.2" r="1.6"/><circle cx="754.2" cy="489.8" r="1.6"/><circle cx="752.0" cy="498.2" r="1.6"/><circle cx="750.3" cy="515.7" r="1.6"/><circle cx="759.2" cy="517.8" r="1.6"/><circle cx="751.2" cy="561.4" r="1.6"/><circle cx="748.1" cy="522.2" r="1.6"/><circle cx="756.1" cy="535.1" r="1.6"/><circle cx="753.8" cy="480.8" r="1.6"/><circle cx="742.3" cy="520.2" r="1.6"/><circle cx="751.8" cy="482.6" r="1.6"/><circle cx="744.8" cy="528.6" r="1.6"/><circle cx="745.0" cy="529.2" r="1.6"/><circle cx="754.3" cy="526.2" r="1.6"/><circle cx="753.2" cy="527.1" r="1.6"/><circle cx="758.9" cy="547.8" r="1.6"/><circle cx="741.5" cy="543.2" r="1.6"/><circle cx="747.0" cy="532.2" r="1.6"/><circle cx="749.7" cy="551.5" r="1.6"/><circle cx="744.4" cy="521.0" r="1.6"/><circle cx="760.0" cy="531.0" r="1.6"/><circle cx="750.6" cy="511.8" r="1.6"/><circle cx="750.8" cy="524.8" r="1.6"/><circle cx="755.9" cy="528.9" r="1.6"/><circle cx="737.2" cy="530.0" r="1.6"/><circle cx="746.2" cy="528.3" r="1.6"/><circle cx="748.0" cy="512.5" r="1.6"/><circle cx="764.6" cy="524.3" r="1.6"/><circle cx="746.0" cy="552.4" r="1.6"/><circle cx="741.3" cy="561.0" r="1.6"/><circle cx="752.8" cy="571.9" r="1.6"/><circle cx="741.2" cy="542.8" r="1.6"/><circle cx="754.1" cy="562.6" r="1.6"/><circle cx="749.6" cy="546.0" r="1.6"/><circle cx="759.6" cy="520.1" r="1.6"/><circle cx="755.4" cy="482.3" r="1.6"/><circle cx="752.6" cy="524.4" r="1.6"/><circle cx="757.2" cy="485.5" r="1.6"/><circle cx="754.2" cy="535.1" r="1.6"/><circle cx="751.8" cy="521.1" r="1.6"/><circle cx="744.0" cy="539.6" r="1.6"/><circle cx="742.8" cy="540.4" r="1.6"/><circle cx="754.2" cy="499.1" r="1.6"/><circle cx="758.0" cy="556.1" r="1.6"/><circle cx="741.1" cy="506.9" r="1.6"/><circle cx="754.7" cy="484.6" r="1.6"/><circle cx="747.2" cy="479.4" r="1.6"/><circle cx="754.0" cy="515.4" r="1.6"/><circle cx="752.5" cy="523.1" r="1.6"/><circle cx="743.7" cy="503.1" r="1.6"/><circle cx="745.1" cy="557.0" r="1.6"/><circle cx="748.1" cy="540.9" r="1.6"/><circle cx="753.1" cy="519.2" r="1.6"/><circle cx="747.4" cy="527.1" r="1.6"/><circle cx="756.9" cy="538.2" r="1.6"/><circle cx="752.1" cy="509.9" r="1.6"/><circle cx="760.6" cy="535.4" r="1.6"/><circle cx="755.1" cy="541.8" r="1.6"/><circle cx="750.2" cy="500.7" r="1.6"/><circle cx="745.3" cy="508.4" r="1.6"/><circle cx="752.6" cy="504.1" r="1.6"/><circle cx="754.2" cy="565.1" r="1.6"/><circle cx="758.1" cy="548.8" r="1.6"/><circle cx="750.6" cy="543.8" r="1.6"/><circle cx="749.5" cy="521.2" r="1.6"/><circle cx="748.2" cy="521.7" r="1.6"/><circle cx="751.5" cy="512.1" r="1.6"/><circle cx="735.0" cy="522.9" r="1.6"/><circle cx="751.7" cy="500.6" r="1.6"/><circle cx="751.8" cy="569.7" r="1.6"/><circle cx="757.8" cy="516.9" r="1.6"/><circle cx="759.0" cy="553.2" r="1.6"/><circle cx="765.7" cy="531.6" r="1.6"/><circle cx="755.5" cy="531.3" r="1.6"/><circle cx="745.0" cy="536.4" r="1.6"/><circle cx="756.2" cy="502.1" r="1.6"/><circle cx="755.3" cy="491.7" r="1.6"/><circle cx="742.2" cy="541.3" r="1.6"/><circle cx="747.8" cy="543.1" r="1.6"/><circle cx="754.6" cy="547.0" r="1.6"/><circle cx="749.9" cy="520.1" r="1.6"/><circle cx="750.6" cy="523.8" r="1.6"/><circle cx="756.0" cy="522.8" r="1.6"/><circle cx="747.8" cy="505.3" r="1.6"/><circle cx="757.4" cy="563.2" r="1.6"/><circle cx="758.1" cy="525.1" r="1.6"/><circle cx="750.2" cy="566.4" r="1.6"/><circle cx="742.9" cy="527.2" r="1.6"/><circle cx="755.6" cy="539.9" r="1.6"/><circle cx="759.7" cy="502.5" r="1.6"/><circle cx="744.2" cy="548.1" r="1.6"/><circle cx="757.0" cy="515.6" r="1.6"/><circle cx="743.7" cy="523.3" r="1.6"/><circle cx="755.9" cy="509.5" r="1.6"/><circle cx="748.7" cy="514.8" r="1.6"/><circle cx="756.2" cy="520.7" r="1.6"/><circle cx="741.2" cy="540.9" r="1.6"/><circle cx="754.4" cy="520.1" r="1.6"/><circle cx="756.8" cy="527.5" r="1.6"/><circle cx="751.0" cy="541.6" r="1.6"/><circle cx="754.8" cy="535.0" r="1.6"/><circle cx="750.4" cy="490.4" r="1.6"/><circle cx="756.9" cy="479.6" r="1.6"/><circle cx="754.8" cy="509.3" r="1.6"/><circle cx="750.8" cy="486.3" r="1.6"/><circle cx="745.2" cy="530.4" r="1.6"/><circle cx="759.4" cy="516.7" r="1.6"/><circle cx="754.0" cy="515.3" r="1.6"/><circle cx="752.5" cy="532.5" r="1.6"/><circle cx="756.0" cy="561.3" r="1.6"/><circle cx="745.1" cy="537.4" r="1.6"/><circle cx="747.1" cy="545.5" r="1.6"/><circle cx="757.3" cy="507.7" r="1.6"/><circle cx="755.5" cy="559.7" r="1.6"/><circle cx="748.3" cy="507.0" r="1.6"/><circle cx="748.4" cy="562.7" r="1.6"/><circle cx="753.4" cy="542.7" r="1.6"/><circle cx="739.7" cy="536.2" r="1.6"/><circle cx="742.3" cy="522.3" r="1.6"/><circle cx="745.0" cy="506.6" r="1.6"/><circle cx="746.9" cy="544.1" r="1.6"/><circle cx="758.8" cy="540.6" r="1.6"/><circle cx="754.8" cy="507.8" r="1.6"/><circle cx="742.3" cy="520.3" r="1.6"/><circle cx="748.4" cy="540.0" r="1.6"/><circle cx="754.0" cy="550.8" r="1.6"/><circle cx="747.7" cy="545.2" r="1.6"/><circle cx="741.4" cy="552.3" r="1.6"/><circle cx="759.2" cy="513.8" r="1.6"/><circle cx="745.6" cy="523.7" r="1.6"/><circle cx="751.9" cy="591.3" r="1.6"/><circle cx="753.0" cy="499.3" r="1.6"/><circle cx="759.5" cy="506.1" r="1.6"/><circle cx="749.2" cy="501.4" r="1.6"/><circle cx="755.5" cy="503.1" r="1.6"/><circle cx="749.9" cy="563.9" r="1.6"/><circle cx="751.0" cy="561.2" r="1.6"/><circle cx="745.3" cy="514.2" r="1.6"/><circle cx="755.7" cy="576.1" r="1.6"/><circle cx="760.2" cy="519.0" r="1.6"/><circle cx="756.2" cy="558.9" r="1.6"/><circle cx="758.6" cy="479.1" r="1.6"/><circle cx="753.1" cy="532.8" r="1.6"/><circle cx="757.4" cy="531.4" r="1.6"/><circle cx="752.0" cy="503.5" r="1.6"/><circle cx="754.7" cy="559.7" r="1.6"/><circle cx="755.1" cy="538.8" r="1.6"/><circle cx="761.2" cy="521.6" r="1.6"/><circle cx="749.2" cy="501.1" r="1.6"/><circle cx="762.0" cy="519.6" r="1.6"/><circle cx="753.9" cy="540.4" r="1.6"/><circle cx="757.8" cy="499.9" r="1.6"/><circle cx="743.8" cy="515.6" r="1.6"/><circle cx="752.6" cy="557.4" r="1.6"/><circle cx="766.6" cy="518.7" r="1.6"/><circle cx="757.4" cy="548.0" r="1.6"/><circle cx="742.2" cy="509.7" r="1.6"/><circle cx="752.4" cy="547.0" r="1.6"/><circle cx="750.6" cy="539.4" r="1.6"/><circle cx="746.7" cy="516.8" r="1.6"/><circle cx="747.8" cy="516.9" r="1.6"/><circle cx="754.5" cy="540.6" r="1.6"/><circle cx="753.1" cy="541.3" r="1.6"/><circle cx="751.6" cy="490.3" r="1.6"/><circle cx="755.9" cy="531.2" r="1.6"/><circle cx="757.8" cy="536.4" r="1.6"/><circle cx="754.3" cy="557.9" r="1.6"/><circle cx="747.0" cy="539.8" r="1.6"/><circle cx="748.1" cy="486.3" r="1.6"/><circle cx="754.2" cy="486.6" r="1.6"/><circle cx="747.0" cy="493.7" r="1.6"/><circle cx="758.8" cy="499.7" r="1.6"/><circle cx="750.7" cy="530.6" r="1.6"/><circle cx="752.0" cy="470.2" r="1.6"/><circle cx="747.9" cy="537.7" r="1.6"/><circle cx="753.4" cy="517.4" r="1.6"/><circle cx="761.8" cy="523.7" r="1.6"/><circle cx="754.3" cy="535.5" r="1.6"/><circle cx="746.9" cy="493.6" r="1.6"/><circle cx="761.1" cy="503.4" r="1.6"/><circle cx="746.7" cy="559.6" r="1.6"/><circle cx="742.4" cy="552.2" r="1.6"/><circle cx="740.6" cy="517.2" r="1.6"/><circle cx="760.0" cy="516.1" r="1.6"/><circle cx="750.3" cy="565.7" r="1.6"/><circle cx="754.2" cy="572.8" r="1.6"/><circle cx="750.1" cy="545.1" r="1.6"/><circle cx="754.8" cy="526.5" r="1.6"/><circle cx="751.6" cy="536.0" r="1.6"/><circle cx="752.1" cy="540.7" r="1.6"/><circle cx="751.8" cy="555.3" r="1.6"/><circle cx="749.8" cy="573.2" r="1.6"/><circle cx="751.8" cy="482.9" r="1.6"/><circle cx="752.7" cy="557.4" r="1.6"/><circle cx="743.2" cy="550.6" r="1.6"/><circle cx="755.5" cy="545.1" r="1.6"/><circle cx="750.9" cy="518.8" r="1.6"/><circle cx="746.0" cy="549.6" r="1.6"/><circle cx="752.7" cy="496.1" r="1.6"/><circle cx="740.8" cy="550.2" r="1.6"/><circle cx="762.3" cy="560.0" r="1.6"/><circle cx="751.1" cy="554.8" r="1.6"/><circle cx="750.6" cy="522.9" r="1.6"/><circle cx="743.5" cy="534.4" r="1.6"/><circle cx="759.8" cy="552.5" r="1.6"/><circle cx="756.0" cy="545.6" r="1.6"/><circle cx="750.5" cy="567.6" r="1.6"/><circle cx="757.7" cy="521.7" r="1.6"/><circle cx="754.3" cy="554.2" r="1.6"/><circle cx="747.1" cy="518.8" r="1.6"/><circle cx="746.2" cy="516.6" r="1.6"/><circle cx="751.4" cy="546.5" r="1.6"/><circle cx="751.2" cy="591.5" r="1.6"/><circle cx="744.2" cy="551.3" r="1.6"/><circle cx="755.9" cy="537.8" r="1.6"/><circle cx="758.8" cy="537.3" r="1.6"/><circle cx="745.3" cy="555.0" r="1.6"/><circle cx="753.3" cy="491.4" r="1.6"/><circle cx="747.1" cy="505.6" r="1.6"/><circle cx="752.9" cy="508.9" r="1.6"/><circle cx="751.6" cy="512.6" r="1.6"/><circle cx="748.3" cy="499.5" r="1.6"/><circle cx="744.1" cy="550.4" r="1.6"/><circle cx="747.8" cy="500.6" r="1.6"/><circle cx="746.9" cy="552.3" r="1.6"/><circle cx="744.2" cy="538.3" r="1.6"/><circle cx="747.8" cy="534.6" r="1.6"/><circle cx="746.1" cy="540.8" r="1.6"/><circle cx="748.7" cy="527.0" r="1.6"/><circle cx="753.0" cy="525.1" r="1.6"/><circle cx="738.5" cy="519.8" r="1.6"/><circle cx="747.0" cy="540.4" r="1.6"/><circle cx="742.7" cy="509.6" r="1.6"/><circle cx="749.9" cy="544.6" r="1.6"/><circle cx="757.3" cy="535.7" r="1.6"/><circle cx="757.0" cy="538.2" r="1.6"/><circle cx="743.9" cy="562.2" r="1.6"/><circle cx="753.7" cy="499.2" r="1.6"/><circle cx="752.2" cy="516.4" r="1.6"/><circle cx="744.4" cy="516.5" r="1.6"/><circle cx="748.6" cy="505.6" r="1.6"/><circle cx="752.0" cy="504.7" r="1.6"/><circle cx="747.2" cy="574.1" r="1.6"/><circle cx="750.8" cy="501.4" r="1.6"/><circle cx="752.9" cy="537.1" r="1.6"/><circle cx="748.4" cy="537.8" r="1.6"/><circle cx="752.4" cy="525.4" r="1.6"/><circle cx="751.7" cy="492.2" r="1.6"/><circle cx="758.4" cy="483.7" r="1.6"/><circle cx="755.9" cy="487.5" r="1.6"/><circle cx="752.3" cy="524.8" r="1.6"/><circle cx="747.2" cy="531.2" r="1.6"/><circle cx="747.7" cy="529.4" r="1.6"/><circle cx="753.8" cy="489.3" r="1.6"/><circle cx="740.5" cy="538.3" r="1.6"/><circle cx="749.0" cy="529.1" r="1.6"/><circle cx="746.0" cy="553.3" r="1.6"/><circle cx="753.2" cy="580.6" r="1.6"/><circle cx="766.9" cy="529.4" r="1.6"/><circle cx="750.6" cy="528.5" r="1.6"/><circle cx="752.1" cy="493.9" r="1.6"/><circle cx="749.3" cy="523.9" r="1.6"/><circle cx="759.8" cy="542.0" r="1.6"/><circle cx="760.6" cy="504.3" r="1.6"/><circle cx="751.7" cy="536.0" r="1.6"/><circle cx="756.5" cy="548.5" r="1.6"/><circle cx="753.9" cy="560.5" r="1.6"/><circle cx="758.8" cy="502.1" r="1.6"/><circle cx="757.0" cy="549.9" r="1.6"/><circle cx="747.4" cy="544.6" r="1.6"/><circle cx="756.6" cy="558.9" r="1.6"/><circle cx="749.0" cy="489.1" r="1.6"/><circle cx="749.7" cy="545.6" r="1.6"/><circle cx="754.4" cy="469.0" r="1.6"/><circle cx="741.4" cy="540.6" r="1.6"/><circle cx="758.0" cy="543.6" r="1.6"/><circle cx="750.5" cy="484.0" r="1.6"/><circle cx="748.7" cy="544.0" r="1.6"/><circle cx="754.7" cy="572.1" r="1.6"/><circle cx="756.6" cy="553.3" r="1.6"/><circle cx="746.7" cy="567.9" r="1.6"/><circle cx="746.9" cy="521.1" r="1.6"/><circle cx="751.5" cy="509.5" r="1.6"/><circle cx="754.4" cy="555.4" r="1.6"/><circle cx="741.0" cy="508.1" r="1.6"/><circle cx="753.4" cy="485.0" r="1.6"/><circle cx="741.1" cy="510.0" r="1.6"/><circle cx="749.6" cy="544.7" r="1.6"/><circle cx="743.9" cy="502.5" r="1.6"/><circle cx="741.0" cy="548.6" r="1.6"/><circle cx="753.5" cy="533.5" r="1.6"/><circle cx="749.2" cy="567.4" r="1.6"/><circle cx="760.8" cy="515.8" r="1.6"/><circle cx="749.8" cy="512.2" r="1.6"/><circle cx="747.1" cy="555.5" r="1.6"/><circle cx="752.3" cy="543.4" r="1.6"/><circle cx="761.5" cy="529.0" r="1.6"/><circle cx="745.1" cy="521.1" r="1.6"/><circle cx="755.7" cy="491.6" r="1.6"/><circle cx="747.2" cy="525.4" r="1.6"/><circle cx="747.9" cy="571.7" r="1.6"/><circle cx="747.2" cy="506.4" r="1.6"/><circle cx="752.4" cy="558.8" r="1.6"/><circle cx="755.1" cy="522.1" r="1.6"/><circle cx="759.6" cy="512.4" r="1.6"/><circle cx="756.6" cy="547.5" r="1.6"/><circle cx="755.0" cy="551.0" r="1.6"/><circle cx="753.0" cy="523.6" r="1.6"/><circle cx="751.4" cy="505.1" r="1.6"/><circle cx="756.0" cy="501.7" r="1.6"/><circle cx="748.1" cy="524.6" r="1.6"/><circle cx="748.7" cy="545.5" r="1.6"/><circle cx="751.4" cy="532.6" r="1.6"/><circle cx="755.9" cy="512.8" r="1.6"/><circle cx="747.8" cy="548.0" r="1.6"/><circle cx="752.6" cy="535.3" r="1.6"/><circle cx="759.4" cy="552.1" r="1.6"/><circle cx="757.5" cy="541.0" r="1.6"/><circle cx="751.5" cy="582.6" r="1.6"/><circle cx="752.6" cy="521.3" r="1.6"/><circle cx="753.1" cy="513.7" r="1.6"/><circle cx="740.2" cy="524.0" r="1.6"/><circle cx="738.8" cy="544.6" r="1.6"/><circle cx="753.3" cy="513.1" r="1.6"/><circle cx="746.6" cy="532.4" r="1.6"/><circle cx="761.8" cy="541.5" r="1.6"/><circle cx="751.3" cy="487.2" r="1.6"/><circle cx="743.8" cy="497.6" r="1.6"/><circle cx="749.9" cy="573.2" r="1.6"/><circle cx="748.6" cy="548.4" r="1.6"/><circle cx="769.6" cy="523.4" r="1.6"/><circle cx="751.8" cy="543.3" r="1.6"/><circle cx="751.3" cy="521.3" r="1.6"/><circle cx="761.1" cy="506.0" r="1.6"/><circle cx="752.2" cy="557.0" r="1.6"/><circle cx="753.6" cy="534.0" r="1.6"/><circle cx="744.4" cy="563.8" r="1.6"/><circle cx="753.0" cy="582.2" r="1.6"/><circle cx="751.9" cy="523.3" r="1.6"/><circle cx="750.4" cy="583.4" r="1.6"/><circle cx="743.9" cy="545.5" r="1.6"/><circle cx="755.1" cy="549.3" r="1.6"/><circle cx="751.4" cy="515.0" r="1.6"/><circle cx="748.0" cy="515.7" r="1.6"/><circle cx="751.7" cy="526.1" r="1.6"/><circle cx="751.1" cy="514.8" r="1.6"/><circle cx="750.7" cy="531.2" r="1.6"/><circle cx="763.8" cy="543.0" r="1.6"/><circle cx="754.0" cy="515.8" r="1.6"/><circle cx="756.0" cy="474.0" r="1.6"/><circle cx="754.3" cy="564.4" r="1.6"/><circle cx="761.9" cy="508.2" r="1.6"/><circle cx="755.2" cy="496.9" r="1.6"/><circle cx="747.4" cy="555.5" r="1.6"/><circle cx="754.5" cy="521.5" r="1.6"/><circle cx="749.6" cy="551.8" r="1.6"/><circle cx="751.8" cy="537.2" r="1.6"/><circle cx="749.8" cy="519.9" r="1.6"/><circle cx="757.2" cy="556.9" r="1.6"/><circle cx="751.0" cy="490.4" r="1.6"/><circle cx="753.8" cy="503.8" r="1.6"/><circle cx="754.3" cy="512.3" r="1.6"/><circle cx="754.6" cy="545.7" r="1.6"/><circle cx="746.8" cy="504.1" r="1.6"/><circle cx="759.2" cy="481.7" r="1.6"/><circle cx="759.3" cy="485.0" r="1.6"/><circle cx="749.6" cy="510.4" r="1.6"/><circle cx="747.0" cy="541.9" r="1.6"/><circle cx="751.3" cy="525.1" r="1.6"/><circle cx="740.0" cy="512.1" r="1.6"/><circle cx="758.7" cy="473.6" r="1.6"/><circle cx="755.5" cy="528.5" r="1.6"/><circle cx="753.1" cy="516.7" r="1.6"/><circle cx="750.8" cy="532.7" r="1.6"/><circle cx="752.4" cy="547.2" r="1.6"/><circle cx="753.4" cy="528.4" r="1.6"/><circle cx="751.7" cy="547.9" r="1.6"/><circle cx="755.1" cy="526.7" r="1.6"/><circle cx="753.5" cy="552.8" r="1.6"/><circle cx="754.7" cy="504.7" r="1.6"/><circle cx="748.7" cy="536.5" r="1.6"/><circle cx="755.8" cy="533.4" r="1.6"/><circle cx="750.8" cy="491.4" r="1.6"/><circle cx="753.6" cy="542.9" r="1.6"/><circle cx="746.1" cy="523.0" r="1.6"/><circle cx="751.0" cy="545.1" r="1.6"/><circle cx="744.7" cy="512.1" r="1.6"/><circle cx="754.0" cy="551.7" r="1.6"/><circle cx="752.0" cy="556.6" r="1.6"/><circle cx="750.8" cy="519.6" r="1.6"/><circle cx="751.2" cy="551.7" r="1.6"/><circle cx="753.5" cy="535.6" r="1.6"/><circle cx="757.2" cy="547.5" r="1.6"/><circle cx="750.8" cy="567.1" r="1.6"/><circle cx="757.3" cy="527.6" r="1.6"/><circle cx="754.5" cy="542.1" r="1.6"/><circle cx="755.6" cy="541.1" r="1.6"/><circle cx="749.9" cy="487.0" r="1.6"/><circle cx="746.0" cy="517.4" r="1.6"/><circle cx="758.0" cy="505.0" r="1.6"/><circle cx="744.7" cy="527.0" r="1.6"/><circle cx="758.3" cy="518.4" r="1.6"/><circle cx="755.7" cy="502.2" r="1.6"/><circle cx="749.1" cy="570.8" r="1.6"/><circle cx="745.8" cy="494.4" r="1.6"/><circle cx="761.1" cy="501.3" r="1.6"/><circle cx="757.8" cy="509.9" r="1.6"/><circle cx="744.4" cy="535.6" r="1.6"/><circle cx="750.3" cy="530.2" r="1.6"/><circle cx="755.7" cy="528.9" r="1.6"/><circle cx="752.6" cy="531.2" r="1.6"/><circle cx="751.5" cy="517.9" r="1.6"/><circle cx="753.2" cy="484.6" r="1.6"/><circle cx="750.3" cy="525.8" r="1.6"/><circle cx="758.9" cy="542.5" r="1.6"/><circle cx="745.0" cy="524.3" r="1.6"/><circle cx="750.7" cy="541.0" r="1.6"/><circle cx="757.7" cy="538.3" r="1.6"/><circle cx="753.8" cy="555.1" r="1.6"/><circle cx="744.4" cy="524.5" r="1.6"/><circle cx="750.9" cy="526.7" r="1.6"/><circle cx="748.9" cy="516.1" r="1.6"/><circle cx="741.6" cy="520.7" r="1.6"/><circle cx="755.3" cy="553.3" r="1.6"/><circle cx="751.4" cy="503.4" r="1.6"/><circle cx="757.5" cy="541.9" r="1.6"/><circle cx="749.0" cy="576.9" r="1.6"/><circle cx="755.2" cy="512.0" r="1.6"/><circle cx="742.2" cy="552.0" r="1.6"/><circle cx="752.2" cy="493.7" r="1.6"/><circle cx="751.8" cy="548.9" r="1.6"/><circle cx="737.4" cy="506.7" r="1.6"/><circle cx="755.3" cy="501.8" r="1.6"/><circle cx="754.0" cy="576.7" r="1.6"/><circle cx="755.7" cy="569.6" r="1.6"/><circle cx="764.8" cy="518.5" r="1.6"/><circle cx="751.5" cy="542.2" r="1.6"/><circle cx="748.2" cy="503.2" r="1.6"/><circle cx="749.5" cy="544.4" r="1.6"/><circle cx="745.0" cy="529.5" r="1.6"/><circle cx="754.7" cy="516.5" r="1.6"/><circle cx="761.7" cy="526.1" r="1.6"/><circle cx="759.1" cy="535.5" r="1.6"/><circle cx="755.7" cy="540.7" r="1.6"/><circle cx="752.2" cy="573.2" r="1.6"/><circle cx="748.6" cy="531.9" r="1.6"/><circle cx="749.6" cy="542.2" r="1.6"/><circle cx="739.7" cy="544.7" r="1.6"/><circle cx="748.4" cy="541.8" r="1.6"/><circle cx="745.5" cy="540.1" r="1.6"/><circle cx="756.2" cy="531.0" r="1.6"/><circle cx="748.6" cy="533.7" r="1.6"/><circle cx="756.1" cy="496.0" r="1.6"/><circle cx="757.7" cy="506.2" r="1.6"/><circle cx="750.7" cy="535.5" r="1.6"/><circle cx="748.7" cy="501.7" r="1.6"/><circle cx="753.7" cy="530.6" r="1.6"/><circle cx="749.9" cy="519.1" r="1.6"/><circle cx="750.6" cy="504.7" r="1.6"/><circle cx="757.5" cy="510.8" r="1.6"/><circle cx="755.7" cy="512.3" r="1.6"/><circle cx="745.3" cy="555.0" r="1.6"/><circle cx="754.1" cy="542.3" r="1.6"/><circle cx="746.0" cy="492.6" r="1.6"/><circle cx="746.4" cy="520.6" r="1.6"/><circle cx="750.0" cy="545.0" r="1.6"/><circle cx="752.7" cy="511.6" r="1.6"/><circle cx="746.6" cy="500.1" r="1.6"/><circle cx="756.6" cy="506.9" r="1.6"/><circle cx="754.4" cy="526.2" r="1.6"/><circle cx="745.4" cy="541.0" r="1.6"/><circle cx="747.8" cy="537.3" r="1.6"/><circle cx="760.9" cy="539.2" r="1.6"/><circle cx="753.4" cy="523.1" r="1.6"/><circle cx="747.1" cy="510.4" r="1.6"/><circle cx="753.5" cy="506.3" r="1.6"/><circle cx="754.0" cy="563.4" r="1.6"/><circle cx="754.1" cy="514.9" r="1.6"/><circle cx="749.7" cy="490.6" r="1.6"/><circle cx="755.9" cy="515.8" r="1.6"/><circle cx="757.7" cy="549.0" r="1.6"/><circle cx="746.0" cy="561.9" r="1.6"/><circle cx="745.1" cy="515.6" r="1.6"/><circle cx="741.7" cy="530.5" r="1.6"/><circle cx="744.7" cy="526.2" r="1.6"/><circle cx="742.4" cy="519.8" r="1.6"/><circle cx="749.9" cy="517.3" r="1.6"/><circle cx="751.1" cy="526.3" r="1.6"/><circle cx="743.6" cy="524.8" r="1.6"/><circle cx="751.6" cy="588.0" r="1.6"/><circle cx="749.2" cy="549.8" r="1.6"/><circle cx="739.8" cy="517.8" r="1.6"/><circle cx="748.2" cy="545.7" r="1.6"/><circle cx="753.1" cy="552.6" r="1.6"/><circle cx="746.6" cy="531.1" r="1.6"/><circle cx="755.5" cy="550.9" r="1.6"/><circle cx="754.7" cy="543.3" r="1.6"/><circle cx="740.4" cy="517.3" r="1.6"/><circle cx="751.5" cy="553.3" r="1.6"/><circle cx="756.1" cy="519.8" r="1.6"/><circle cx="757.2" cy="509.0" r="1.6"/><circle cx="750.3" cy="536.6" r="1.6"/><circle cx="749.1" cy="509.6" r="1.6"/><circle cx="743.2" cy="503.0" r="1.6"/><circle cx="750.5" cy="512.5" r="1.6"/><circle cx="754.8" cy="574.0" r="1.6"/><circle cx="751.6" cy="520.5" r="1.6"/><circle cx="749.2" cy="553.1" r="1.6"/><circle cx="747.8" cy="492.3" r="1.6"/><circle cx="745.3" cy="547.9" r="1.6"/><circle cx="749.2" cy="530.9" r="1.6"/><circle cx="747.2" cy="549.2" r="1.6"/><circle cx="744.0" cy="503.2" r="1.6"/><circle cx="749.5" cy="481.9" r="1.6"/><circle cx="755.3" cy="553.5" r="1.6"/><circle cx="745.5" cy="514.6" r="1.6"/><circle cx="741.2" cy="510.2" r="1.6"/><circle cx="757.2" cy="549.5" r="1.6"/><circle cx="743.8" cy="533.8" r="1.6"/><circle cx="756.9" cy="515.8" r="1.6"/><circle cx="740.7" cy="528.3" r="1.6"/><circle cx="753.9" cy="535.9" r="1.6"/><circle cx="761.9" cy="509.8" r="1.6"/><circle cx="748.7" cy="533.8" r="1.6"/><circle cx="758.7" cy="528.7" r="1.6"/><circle cx="758.1" cy="549.9" r="1.6"/><circle cx="753.4" cy="592.3" r="1.6"/><circle cx="754.0" cy="543.7" r="1.6"/><circle cx="744.8" cy="511.7" r="1.6"/><circle cx="752.9" cy="529.8" r="1.6"/><circle cx="746.1" cy="514.0" r="1.6"/><circle cx="741.9" cy="551.1" r="1.6"/><circle cx="750.9" cy="468.2" r="1.6"/><circle cx="742.7" cy="533.0" r="1.6"/><circle cx="748.6" cy="506.0" r="1.6"/><circle cx="755.4" cy="494.1" r="1.6"/><circle cx="755.9" cy="527.3" r="1.6"/><circle cx="749.9" cy="553.9" r="1.6"/><circle cx="744.4" cy="541.3" r="1.6"/><circle cx="750.6" cy="527.4" r="1.6"/><circle cx="736.1" cy="494.1" r="1.6"/><circle cx="746.5" cy="543.6" r="1.6"/><circle cx="753.9" cy="538.7" r="1.6"/><circle cx="751.7" cy="518.3" r="1.6"/><circle cx="754.3" cy="538.9" r="1.6"/><circle cx="740.6" cy="519.4" r="1.6"/><circle cx="743.4" cy="534.0" r="1.6"/><circle cx="752.2" cy="555.6" r="1.6"/><circle cx="752.2" cy="526.4" r="1.6"/><circle cx="750.5" cy="548.4" r="1.6"/><circle cx="753.5" cy="549.2" r="1.6"/><circle cx="761.5" cy="511.7" r="1.6"/><circle cx="747.6" cy="498.1" r="1.6"/><circle cx="746.1" cy="538.6" r="1.6"/><circle cx="763.3" cy="520.6" r="1.6"/><circle cx="739.0" cy="511.2" r="1.6"/><circle cx="745.6" cy="557.3" r="1.6"/><circle cx="751.5" cy="515.7" r="1.6"/><circle cx="762.1" cy="520.8" r="1.6"/><circle cx="747.1" cy="547.2" r="1.6"/><circle cx="752.8" cy="481.7" r="1.6"/><circle cx="740.7" cy="546.1" r="1.6"/><circle cx="741.5" cy="563.6" r="1.6"/><circle cx="751.8" cy="526.2" r="1.6"/><circle cx="750.8" cy="504.5" r="1.6"/><circle cx="747.5" cy="544.1" r="1.6"/><circle cx="744.8" cy="483.2" r="1.6"/><circle cx="751.7" cy="523.7" r="1.6"/><circle cx="749.2" cy="513.3" r="1.6"/><circle cx="756.3" cy="516.1" r="1.6"/><circle cx="748.8" cy="531.3" r="1.6"/><circle cx="745.8" cy="532.2" r="1.6"/><circle cx="749.7" cy="532.7" r="1.6"/><circle cx="759.5" cy="522.9" r="1.6"/><circle cx="749.4" cy="497.1" r="1.6"/><circle cx="753.2" cy="513.7" r="1.6"/><circle cx="751.6" cy="509.9" r="1.6"/><circle cx="748.7" cy="521.6" r="1.6"/><circle cx="756.1" cy="546.2" r="1.6"/><circle cx="754.7" cy="497.3" r="1.6"/><circle cx="753.1" cy="517.6" r="1.6"/><circle cx="741.3" cy="538.4" r="1.6"/><circle cx="752.6" cy="512.2" r="1.6"/><circle cx="746.1" cy="540.8" r="1.6"/><circle cx="742.7" cy="497.8" r="1.6"/><circle cx="754.1" cy="486.5" r="1.6"/><circle cx="749.3" cy="472.2" r="1.6"/><circle cx="748.5" cy="528.3" r="1.6"/><circle cx="750.2" cy="524.2" r="1.6"/><circle cx="757.3" cy="545.4" r="1.6"/><circle cx="748.8" cy="546.2" r="1.6"/><circle cx="748.4" cy="514.8" r="1.6"/><circle cx="753.5" cy="538.0" r="1.6"/><circle cx="744.3" cy="536.5" r="1.6"/><circle cx="750.2" cy="530.2" r="1.6"/><circle cx="747.0" cy="487.8" r="1.6"/><circle cx="747.3" cy="505.1" r="1.6"/><circle cx="749.6" cy="536.2" r="1.6"/><circle cx="756.7" cy="521.5" r="1.6"/><circle cx="748.9" cy="486.7" r="1.6"/><circle cx="756.2" cy="496.6" r="1.6"/><circle cx="747.3" cy="508.7" r="1.6"/><circle cx="750.9" cy="506.7" r="1.6"/><circle cx="749.9" cy="519.5" r="1.6"/><circle cx="757.9" cy="512.2" r="1.6"/><circle cx="750.5" cy="501.3" r="1.6"/><circle cx="759.2" cy="504.5" r="1.6"/><circle cx="759.0" cy="549.8" r="1.6"/><circle cx="753.9" cy="559.2" r="1.6"/><circle cx="760.1" cy="513.9" r="1.6"/><circle cx="748.6" cy="521.3" r="1.6"/><circle cx="744.9" cy="546.5" r="1.6"/><circle cx="750.2" cy="509.8" r="1.6"/><circle cx="754.4" cy="544.7" r="1.6"/><circle cx="749.2" cy="545.8" r="1.6"/><circle cx="760.9" cy="538.6" r="1.6"/><circle cx="750.8" cy="493.5" r="1.6"/><circle cx="752.6" cy="564.7" r="1.6"/><circle cx="753.6" cy="526.1" r="1.6"/><circle cx="749.6" cy="514.5" r="1.6"/><circle cx="756.0" cy="506.1" r="1.6"/><circle cx="749.1" cy="522.9" r="1.6"/><circle cx="755.4" cy="539.1" r="1.6"/><circle cx="750.7" cy="553.6" r="1.6"/><circle cx="744.0" cy="545.4" r="1.6"/><circle cx="751.4" cy="513.7" r="1.6"/><circle cx="756.7" cy="527.0" r="1.6"/><circle cx="751.2" cy="562.9" r="1.6"/><circle cx="756.5" cy="521.0" r="1.6"/><circle cx="755.0" cy="553.3" r="1.6"/><circle cx="759.6" cy="522.7" r="1.6"/><circle cx="754.3" cy="501.1" r="1.6"/><circle cx="751.5" cy="477.4" r="1.6"/><circle cx="749.5" cy="537.8" r="1.6"/><circle cx="751.4" cy="549.9" r="1.6"/><circle cx="751.2" cy="571.9" r="1.6"/><circle cx="757.3" cy="517.8" r="1.6"/><circle cx="759.6" cy="536.0" r="1.6"/><circle cx="750.8" cy="543.1" r="1.6"/><circle cx="748.8" cy="571.9" r="1.6"/><circle cx="759.2" cy="546.4" r="1.6"/><circle cx="745.2" cy="515.7" r="1.6"/><circle cx="754.2" cy="515.6" r="1.6"/><circle cx="751.6" cy="533.2" r="1.6"/><circle cx="748.4" cy="534.8" r="1.6"/><circle cx="751.2" cy="568.5" r="1.6"/><circle cx="758.3" cy="498.4" r="1.6"/><circle cx="747.2" cy="534.2" r="1.6"/><circle cx="756.7" cy="532.7" r="1.6"/><circle cx="748.1" cy="519.8" r="1.6"/><circle cx="750.3" cy="519.5" r="1.6"/><circle cx="749.2" cy="516.0" r="1.6"/><circle cx="751.7" cy="561.5" r="1.6"/><circle cx="745.4" cy="510.4" r="1.6"/><circle cx="756.6" cy="530.3" r="1.6"/><circle cx="747.8" cy="536.4" r="1.6"/><circle cx="754.5" cy="481.4" r="1.6"/><circle cx="746.6" cy="504.3" r="1.6"/><circle cx="744.5" cy="490.5" r="1.6"/><circle cx="755.6" cy="539.7" r="1.6"/><circle cx="747.1" cy="497.4" r="1.6"/><circle cx="752.5" cy="543.0" r="1.6"/><circle cx="753.7" cy="571.9" r="1.6"/><circle cx="749.0" cy="515.0" r="1.6"/><circle cx="755.9" cy="515.6" r="1.6"/><circle cx="754.5" cy="520.8" r="1.6"/><circle cx="749.4" cy="493.3" r="1.6"/><circle cx="748.5" cy="524.1" r="1.6"/><circle cx="749.4" cy="504.3" r="1.6"/><circle cx="752.3" cy="517.0" r="1.6"/><circle cx="761.5" cy="526.3" r="1.6"/><circle cx="759.7" cy="529.8" r="1.6"/><circle cx="758.6" cy="509.0" r="1.6"/><circle cx="756.8" cy="531.6" r="1.6"/><circle cx="748.2" cy="510.6" r="1.6"/><circle cx="750.8" cy="521.7" r="1.6"/><circle cx="759.0" cy="528.6" r="1.6"/><circle cx="742.7" cy="544.2" r="1.6"/><circle cx="749.8" cy="567.3" r="1.6"/><circle cx="751.6" cy="542.4" r="1.6"/><circle cx="761.4" cy="515.0" r="1.6"/><circle cx="754.2" cy="520.8" r="1.6"/><circle cx="754.5" cy="544.5" r="1.6"/><circle cx="757.7" cy="497.0" r="1.6"/><circle cx="754.5" cy="572.1" r="1.6"/><circle cx="755.0" cy="492.0" r="1.6"/><circle cx="750.3" cy="561.6" r="1.6"/><circle cx="753.8" cy="514.5" r="1.6"/><circle cx="746.9" cy="546.2" r="1.6"/><circle cx="744.6" cy="506.0" r="1.6"/><circle cx="751.6" cy="495.4" r="1.6"/><circle cx="743.8" cy="521.0" r="1.6"/><circle cx="755.2" cy="541.3" r="1.6"/><circle cx="760.0" cy="561.1" r="1.6"/><circle cx="746.4" cy="559.5" r="1.6"/><circle cx="754.3" cy="526.8" r="1.6"/><circle cx="749.5" cy="511.3" r="1.6"/><circle cx="750.2" cy="532.5" r="1.6"/><circle cx="737.6" cy="540.8" r="1.6"/><circle cx="752.8" cy="506.1" r="1.6"/><circle cx="747.9" cy="524.2" r="1.6"/><circle cx="751.4" cy="522.2" r="1.6"/><circle cx="757.8" cy="529.6" r="1.6"/><circle cx="752.4" cy="566.7" r="1.6"/><circle cx="750.0" cy="551.9" r="1.6"/><circle cx="746.7" cy="494.0" r="1.6"/><circle cx="748.1" cy="530.1" r="1.6"/><circle cx="746.4" cy="506.4" r="1.6"/><circle cx="753.4" cy="565.8" r="1.6"/><circle cx="749.7" cy="535.8" r="1.6"/><circle cx="747.0" cy="503.5" r="1.6"/><circle cx="752.3" cy="536.2" r="1.6"/><circle cx="748.6" cy="518.5" r="1.6"/><circle cx="762.9" cy="504.5" r="1.6"/><circle cx="761.9" cy="537.0" r="1.6"/><circle cx="755.9" cy="575.4" r="1.6"/><circle cx="752.3" cy="535.6" r="1.6"/><circle cx="747.9" cy="535.5" r="1.6"/><circle cx="749.8" cy="556.6" r="1.6"/><circle cx="756.9" cy="498.6" r="1.6"/><circle cx="748.6" cy="535.7" r="1.6"/><circle cx="745.2" cy="543.6" r="1.6"/><circle cx="754.1" cy="487.2" r="1.6"/><circle cx="748.7" cy="525.2" r="1.6"/><circle cx="757.8" cy="550.9" r="1.6"/><circle cx="746.4" cy="510.2" r="1.6"/><circle cx="745.8" cy="505.5" r="1.6"/><circle cx="746.2" cy="513.4" r="1.6"/><circle cx="754.2" cy="537.2" r="1.6"/><circle cx="757.2" cy="518.1" r="1.6"/><circle cx="759.5" cy="546.7" r="1.6"/><circle cx="751.5" cy="497.5" r="1.6"/><circle cx="747.1" cy="517.3" r="1.6"/><circle cx="744.0" cy="531.3" r="1.6"/><circle cx="752.6" cy="525.8" r="1.6"/><circle cx="755.9" cy="497.5" r="1.6"/><circle cx="749.6" cy="509.5" r="1.6"/><circle cx="749.6" cy="532.9" r="1.6"/><circle cx="740.4" cy="522.8" r="1.6"/><circle cx="743.0" cy="510.4" r="1.6"/><circle cx="751.6" cy="539.4" r="1.6"/><circle cx="760.5" cy="539.4" r="1.6"/><circle cx="760.5" cy="530.0" r="1.6"/><circle cx="749.1" cy="501.4" r="1.6"/><circle cx="758.9" cy="518.8" r="1.6"/><circle cx="752.0" cy="535.3" r="1.6"/><circle cx="751.8" cy="540.4" r="1.6"/><circle cx="752.0" cy="535.8" r="1.6"/><circle cx="758.6" cy="505.2" r="1.6"/><circle cx="752.7" cy="524.8" r="1.6"/><circle cx="750.0" cy="508.5" r="1.6"/><circle cx="756.8" cy="551.7" r="1.6"/><circle cx="756.1" cy="548.9" r="1.6"/><circle cx="760.4" cy="549.6" r="1.6"/><circle cx="755.5" cy="551.3" r="1.6"/><circle cx="747.3" cy="494.0" r="1.6"/><circle cx="747.9" cy="494.3" r="1.6"/><circle cx="754.1" cy="567.6" r="1.6"/><circle cx="750.4" cy="512.0" r="1.6"/><circle cx="751.4" cy="584.7" r="1.6"/><circle cx="749.4" cy="534.7" r="1.6"/><circle cx="741.4" cy="534.3" r="1.6"/><circle cx="761.2" cy="540.6" r="1.6"/><circle cx="749.9" cy="493.0" r="1.6"/><circle cx="753.6" cy="543.9" r="1.6"/><circle cx="755.2" cy="503.9" r="1.6"/><circle cx="752.2" cy="554.2" r="1.6"/><circle cx="759.8" cy="524.7" r="1.6"/><circle cx="754.0" cy="500.9" r="1.6"/><circle cx="749.6" cy="500.4" r="1.6"/><circle cx="749.7" cy="493.2" r="1.6"/><circle cx="756.7" cy="518.9" r="1.6"/><circle cx="748.0" cy="548.4" r="1.6"/><circle cx="752.1" cy="567.4" r="1.6"/><circle cx="749.6" cy="529.1" r="1.6"/><circle cx="739.6" cy="516.6" r="1.6"/><circle cx="752.0" cy="528.4" r="1.6"/><circle cx="756.0" cy="533.8" r="1.6"/><circle cx="749.7" cy="488.3" r="1.6"/><circle cx="748.5" cy="549.0" r="1.6"/><circle cx="754.9" cy="525.7" r="1.6"/><circle cx="756.5" cy="547.2" r="1.6"/><circle cx="755.5" cy="550.9" r="1.6"/><circle cx="754.1" cy="518.2" r="1.6"/><circle cx="750.6" cy="479.2" r="1.6"/><circle cx="754.2" cy="531.5" r="1.6"/><circle cx="744.4" cy="508.4" r="1.6"/><circle cx="747.2" cy="521.6" r="1.6"/><circle cx="759.1" cy="513.6" r="1.6"/><circle cx="750.9" cy="526.7" r="1.6"/><circle cx="734.5" cy="523.7" r="1.6"/><circle cx="754.5" cy="510.5" r="1.6"/><circle cx="749.2" cy="524.1" r="1.6"/><circle cx="750.6" cy="544.3" r="1.6"/><circle cx="751.0" cy="500.5" r="1.6"/><circle cx="739.6" cy="497.5" r="1.6"/><circle cx="753.0" cy="538.2" r="1.6"/><circle cx="742.0" cy="528.1" r="1.6"/><circle cx="758.1" cy="542.8" r="1.6"/><circle cx="747.2" cy="556.9" r="1.6"/><circle cx="748.9" cy="552.5" r="1.6"/><circle cx="754.8" cy="513.3" r="1.6"/><circle cx="756.3" cy="573.6" r="1.6"/><circle cx="748.3" cy="541.2" r="1.6"/><circle cx="751.2" cy="490.2" r="1.6"/><circle cx="748.6" cy="555.8" r="1.6"/><circle cx="746.2" cy="544.2" r="1.6"/><circle cx="756.4" cy="535.3" r="1.6"/><circle cx="743.6" cy="519.9" r="1.6"/><circle cx="752.1" cy="550.1" r="1.6"/><circle cx="755.9" cy="527.1" r="1.6"/><circle cx="754.1" cy="535.2" r="1.6"/><circle cx="751.8" cy="480.4" r="1.6"/><circle cx="753.0" cy="552.2" r="1.6"/><circle cx="749.6" cy="545.9" r="1.6"/><circle cx="753.4" cy="523.6" r="1.6"/><circle cx="756.3" cy="534.2" r="1.6"/><circle cx="744.1" cy="532.2" r="1.6"/><circle cx="749.6" cy="508.0" r="1.6"/><circle cx="748.3" cy="500.5" r="1.6"/><circle cx="753.3" cy="514.9" r="1.6"/><circle cx="747.8" cy="588.6" r="1.6"/><circle cx="758.0" cy="553.0" r="1.6"/><circle cx="754.7" cy="570.4" r="1.6"/><circle cx="754.0" cy="503.2" r="1.6"/><circle cx="748.8" cy="512.6" r="1.6"/><circle cx="752.8" cy="528.1" r="1.6"/><circle cx="755.5" cy="518.3" r="1.6"/><circle cx="747.5" cy="532.5" r="1.6"/><circle cx="753.7" cy="540.5" r="1.6"/><circle cx="746.7" cy="565.2" r="1.6"/><circle cx="748.4" cy="537.1" r="1.6"/><circle cx="736.5" cy="533.9" r="1.6"/><circle cx="750.1" cy="535.5" r="1.6"/><circle cx="740.8" cy="510.3" r="1.6"/><circle cx="754.2" cy="534.7" r="1.6"/><circle cx="758.2" cy="516.8" r="1.6"/><circle cx="746.2" cy="504.0" r="1.6"/><circle cx="749.6" cy="513.5" r="1.6"/><circle cx="759.3" cy="545.9" r="1.6"/><circle cx="747.0" cy="542.0" r="1.6"/></g>
<line x1="751.3" y1="459.4" x2="751.3" y2="586.5" stroke="#e8262c" stroke-width="1.6" stroke-dasharray="4 3"/>
<rect x="740.5" y="507.5" width="22.5" height="34.2" fill="none" stroke="#e8262c" stroke-width="1.6"/>
<line x1="740.5" y1="527" x2="763" y2="527" stroke="#e8262c" stroke-width="1.6"/>
<line x1="746" y1="459.4" x2="757" y2="459.4" stroke="#e8262c" stroke-width="1.6"/>
<line x1="746" y1="586.5" x2="757" y2="586.5" stroke="#e8262c" stroke-width="1.6"/>
<line x1="706" y1="593.5" x2="706" y2="681.7" stroke="#111" stroke-width="1.6" stroke-dasharray="4 3"/>
<rect x="696" y="621.3" width="22.4" height="49.9" fill="#fff" stroke="#111" stroke-width="1.4"/>
<line x1="696" y1="636.2" x2="718.4" y2="636.2" stroke="#111" stroke-width="1.4"/>
<line x1="703" y1="593.5" x2="712" y2="593.5" stroke="#111" stroke-width="1.6"/>
<line x1="703" y1="681.7" x2="712" y2="681.7" stroke="#111" stroke-width="1.6"/>
<g fill="#555" fill-opacity="0.85"><circle cx="708.25" cy="497.5" r="1.9"/><circle cx="711.5" cy="595" r="1.9"/><circle cx="706" cy="621" r="1.9"/><circle cx="702" cy="629" r="1.9"/><circle cx="705" cy="635" r="1.9"/><circle cx="705" cy="640" r="1.9"/><circle cx="713.5" cy="652" r="1.9"/><circle cx="703" cy="663.5" r="1.9"/><circle cx="705" cy="667" r="1.9"/><circle cx="703.5" cy="675" r="1.9"/><circle cx="707" cy="680" r="1.9"/><circle cx="712.5" cy="681.5" r="1.9"/><circle cx="706" cy="675" r="1.9"/></g>
<text transform="translate(696,746.5) rotate(-45)" font-size="21.5" fill="#4d4d4d">Real</text>
<text transform="translate(733.5,755.5) rotate(-45)" font-size="21.8" fill="#4d4d4d">Shuffle</text>
</svg></body></html>
